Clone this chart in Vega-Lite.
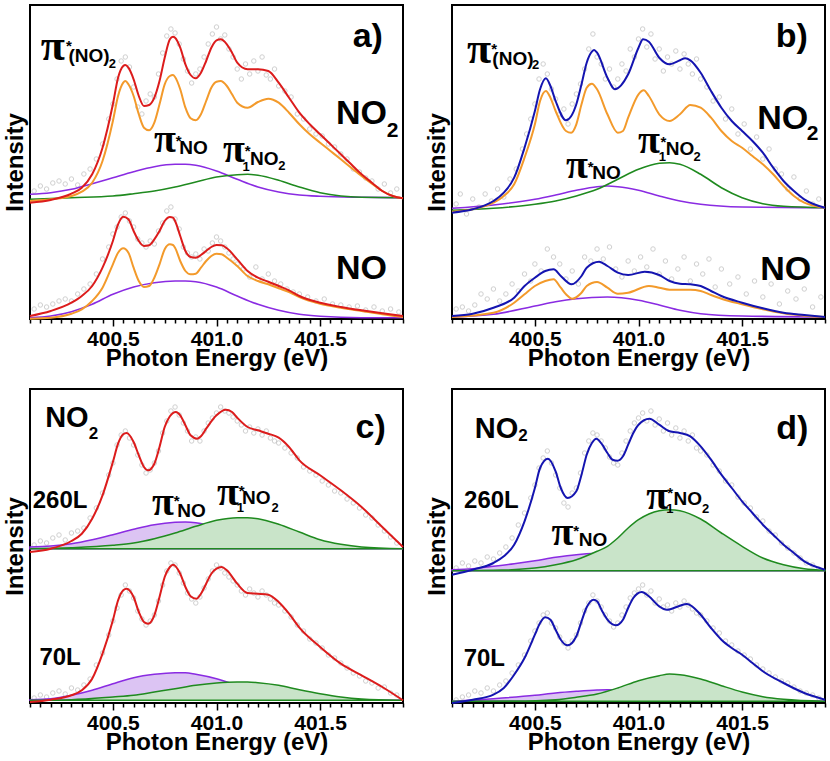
{
"$schema":"https://vega.github.io/schema/vega-lite/v6.json",
"padding":{"left":2,"top":3,"right":3,"bottom":3},
"data":{"values":[
{"p":"a","g":1,"c":"pt","x":400.12,"y":128},{"p":"a","g":1,"c":"pt","x":400.15,"y":133},{"p":"a","g":1,"c":"pt","x":400.18,"y":130},{"p":"a","g":1,"c":"pt","x":400.21,"y":136},{"p":"a","g":1,"c":"pt","x":400.24,"y":138},{"p":"a","g":1,"c":"pt","x":400.27,"y":135},{"p":"a","g":1,"c":"pt","x":400.30,"y":140},{"p":"a","g":1,"c":"pt","x":400.33,"y":134},{"p":"a","g":1,"c":"pt","x":400.36,"y":145},{"p":"a","g":1,"c":"pt","x":400.39,"y":150},{"p":"a","g":1,"c":"pt","x":400.42,"y":160},{"p":"a","g":1,"c":"pt","x":400.45,"y":175},{"p":"a","g":1,"c":"pt","x":400.48,"y":200},{"p":"a","g":1,"c":"pt","x":400.50,"y":215},{"p":"a","g":1,"c":"pt","x":400.52,"y":240},{"p":"a","g":1,"c":"pt","x":400.54,"y":258},{"p":"a","g":1,"c":"pt","x":400.56,"y":262},{"p":"a","g":1,"c":"pt","x":400.58,"y":252},{"p":"a","g":1,"c":"pt","x":400.60,"y":232},{"p":"a","g":1,"c":"pt","x":400.62,"y":212},{"p":"a","g":1,"c":"pt","x":400.64,"y":205},{"p":"a","g":1,"c":"pt","x":400.66,"y":218},{"p":"a","g":1,"c":"pt","x":400.68,"y":225},{"p":"a","g":1,"c":"pt","x":400.70,"y":222},{"p":"a","g":1,"c":"pt","x":400.72,"y":245},{"p":"a","g":1,"c":"pt","x":400.74,"y":266},{"p":"a","g":1,"c":"pt","x":400.76,"y":283},{"p":"a","g":1,"c":"pt","x":400.78,"y":290},{"p":"a","g":1,"c":"pt","x":400.80,"y":286},{"p":"a","g":1,"c":"pt","x":400.82,"y":275},{"p":"a","g":1,"c":"pt","x":400.84,"y":260},{"p":"a","g":1,"c":"pt","x":400.86,"y":248},{"p":"a","g":1,"c":"pt","x":400.88,"y":236},{"p":"a","g":1,"c":"pt","x":400.90,"y":245},{"p":"a","g":1,"c":"pt","x":400.92,"y":250},{"p":"a","g":1,"c":"pt","x":400.94,"y":262},{"p":"a","g":1,"c":"pt","x":400.96,"y":275},{"p":"a","g":1,"c":"pt","x":400.98,"y":285},{"p":"a","g":1,"c":"pt","x":401.00,"y":292},{"p":"a","g":1,"c":"pt","x":401.02,"y":280},{"p":"a","g":1,"c":"pt","x":401.04,"y":284},{"p":"a","g":1,"c":"pt","x":401.06,"y":270},{"p":"a","g":1,"c":"pt","x":401.08,"y":262},{"p":"a","g":1,"c":"pt","x":401.10,"y":250},{"p":"a","g":1,"c":"pt","x":401.12,"y":240},{"p":"a","g":1,"c":"pt","x":401.14,"y":255},{"p":"a","g":1,"c":"pt","x":401.16,"y":245},{"p":"a","g":1,"c":"pt","x":401.18,"y":258},{"p":"a","g":1,"c":"pt","x":401.20,"y":248},{"p":"a","g":1,"c":"pt","x":401.22,"y":262},{"p":"a","g":1,"c":"pt","x":401.24,"y":244},{"p":"a","g":1,"c":"pt","x":401.26,"y":240},{"p":"a","g":1,"c":"pt","x":401.28,"y":250},{"p":"a","g":1,"c":"pt","x":401.30,"y":233},{"p":"a","g":1,"c":"pt","x":401.33,"y":228},{"p":"a","g":1,"c":"pt","x":401.36,"y":222},{"p":"a","g":1,"c":"pt","x":401.39,"y":205},{"p":"a","g":1,"c":"pt","x":401.42,"y":200},{"p":"a","g":1,"c":"pt","x":401.45,"y":190},{"p":"a","g":1,"c":"pt","x":401.48,"y":185},{"p":"a","g":1,"c":"pt","x":401.51,"y":183},{"p":"a","g":1,"c":"pt","x":401.54,"y":175},{"p":"a","g":1,"c":"pt","x":401.57,"y":172},{"p":"a","g":1,"c":"pt","x":401.60,"y":165},{"p":"a","g":1,"c":"pt","x":401.63,"y":160},{"p":"a","g":1,"c":"pt","x":401.66,"y":150},{"p":"a","g":1,"c":"pt","x":401.69,"y":147},{"p":"a","g":1,"c":"pt","x":401.72,"y":141},{"p":"a","g":1,"c":"pt","x":401.75,"y":138},{"p":"a","g":1,"c":"pt","x":401.78,"y":130},{"p":"a","g":1,"c":"pt","x":401.81,"y":135},{"p":"a","g":1,"c":"pt","x":401.84,"y":126},{"p":"a","g":1,"c":"pt","x":401.87,"y":130},
{"p":"a","g":2,"c":"pt","x":400.12,"y":10},{"p":"a","g":2,"c":"pt","x":400.15,"y":14},{"p":"a","g":2,"c":"pt","x":400.18,"y":12},{"p":"a","g":2,"c":"pt","x":400.21,"y":15},{"p":"a","g":2,"c":"pt","x":400.24,"y":18},{"p":"a","g":2,"c":"pt","x":400.27,"y":20},{"p":"a","g":2,"c":"pt","x":400.30,"y":18},{"p":"a","g":2,"c":"pt","x":400.33,"y":25},{"p":"a","g":2,"c":"pt","x":400.36,"y":30},{"p":"a","g":2,"c":"pt","x":400.39,"y":35},{"p":"a","g":2,"c":"pt","x":400.42,"y":45},{"p":"a","g":2,"c":"pt","x":400.45,"y":60},{"p":"a","g":2,"c":"pt","x":400.48,"y":72},{"p":"a","g":2,"c":"pt","x":400.50,"y":85},{"p":"a","g":2,"c":"pt","x":400.52,"y":92},{"p":"a","g":2,"c":"pt","x":400.54,"y":102},{"p":"a","g":2,"c":"pt","x":400.56,"y":106},{"p":"a","g":2,"c":"pt","x":400.58,"y":98},{"p":"a","g":2,"c":"pt","x":400.60,"y":92},{"p":"a","g":2,"c":"pt","x":400.62,"y":80},{"p":"a","g":2,"c":"pt","x":400.64,"y":76},{"p":"a","g":2,"c":"pt","x":400.66,"y":72},{"p":"a","g":2,"c":"pt","x":400.68,"y":78},{"p":"a","g":2,"c":"pt","x":400.70,"y":75},{"p":"a","g":2,"c":"pt","x":400.72,"y":88},{"p":"a","g":2,"c":"pt","x":400.74,"y":96},{"p":"a","g":2,"c":"pt","x":400.76,"y":108},{"p":"a","g":2,"c":"pt","x":400.78,"y":112},{"p":"a","g":2,"c":"pt","x":400.80,"y":100},{"p":"a","g":2,"c":"pt","x":400.82,"y":90},{"p":"a","g":2,"c":"pt","x":400.84,"y":72},{"p":"a","g":2,"c":"pt","x":400.86,"y":66},{"p":"a","g":2,"c":"pt","x":400.88,"y":62},{"p":"a","g":2,"c":"pt","x":400.90,"y":65},{"p":"a","g":2,"c":"pt","x":400.92,"y":60},{"p":"a","g":2,"c":"pt","x":400.94,"y":70},{"p":"a","g":2,"c":"pt","x":400.96,"y":68},{"p":"a","g":2,"c":"pt","x":400.98,"y":76},{"p":"a","g":2,"c":"pt","x":401.00,"y":82},{"p":"a","g":2,"c":"pt","x":401.02,"y":78},{"p":"a","g":2,"c":"pt","x":401.04,"y":72},{"p":"a","g":2,"c":"pt","x":401.06,"y":66},{"p":"a","g":2,"c":"pt","x":401.08,"y":60},{"p":"a","g":2,"c":"pt","x":401.10,"y":55},{"p":"a","g":2,"c":"pt","x":401.13,"y":50},{"p":"a","g":2,"c":"pt","x":401.16,"y":42},{"p":"a","g":2,"c":"pt","x":401.19,"y":52},{"p":"a","g":2,"c":"pt","x":401.22,"y":40},{"p":"a","g":2,"c":"pt","x":401.25,"y":45},{"p":"a","g":2,"c":"pt","x":401.28,"y":38},{"p":"a","g":2,"c":"pt","x":401.31,"y":35},{"p":"a","g":2,"c":"pt","x":401.34,"y":30},{"p":"a","g":2,"c":"pt","x":401.37,"y":27},{"p":"a","g":2,"c":"pt","x":401.40,"y":25},{"p":"a","g":2,"c":"pt","x":401.44,"y":22},{"p":"a","g":2,"c":"pt","x":401.48,"y":18},{"p":"a","g":2,"c":"pt","x":401.52,"y":20},{"p":"a","g":2,"c":"pt","x":401.56,"y":15},{"p":"a","g":2,"c":"pt","x":401.60,"y":14},{"p":"a","g":2,"c":"pt","x":401.64,"y":12},{"p":"a","g":2,"c":"pt","x":401.68,"y":13},{"p":"a","g":2,"c":"pt","x":401.72,"y":9},{"p":"a","g":2,"c":"pt","x":401.76,"y":12},{"p":"a","g":2,"c":"pt","x":401.80,"y":8},{"p":"a","g":2,"c":"pt","x":401.84,"y":10},{"p":"a","g":2,"c":"pt","x":401.88,"y":7},
{"p":"b","g":1,"c":"pt","x":400.12,"y":115},{"p":"b","g":1,"c":"pt","x":400.14,"y":125},{"p":"b","g":1,"c":"pt","x":400.17,"y":105},{"p":"b","g":1,"c":"pt","x":400.20,"y":120},{"p":"b","g":1,"c":"pt","x":400.23,"y":112},{"p":"b","g":1,"c":"pt","x":400.26,"y":125},{"p":"b","g":1,"c":"pt","x":400.29,"y":118},{"p":"b","g":1,"c":"pt","x":400.32,"y":130},{"p":"b","g":1,"c":"pt","x":400.35,"y":122},{"p":"b","g":1,"c":"pt","x":400.38,"y":140},{"p":"b","g":1,"c":"pt","x":400.41,"y":150},{"p":"b","g":1,"c":"pt","x":400.44,"y":170},{"p":"b","g":1,"c":"pt","x":400.46,"y":185},{"p":"b","g":1,"c":"pt","x":400.48,"y":200},{"p":"b","g":1,"c":"pt","x":400.50,"y":215},{"p":"b","g":1,"c":"pt","x":400.52,"y":240},{"p":"b","g":1,"c":"pt","x":400.54,"y":255},{"p":"b","g":1,"c":"pt","x":400.56,"y":245},{"p":"b","g":1,"c":"pt","x":400.58,"y":230},{"p":"b","g":1,"c":"pt","x":400.60,"y":220},{"p":"b","g":1,"c":"pt","x":400.62,"y":205},{"p":"b","g":1,"c":"pt","x":400.64,"y":210},{"p":"b","g":1,"c":"pt","x":400.66,"y":195},{"p":"b","g":1,"c":"pt","x":400.68,"y":215},{"p":"b","g":1,"c":"pt","x":400.70,"y":225},{"p":"b","g":1,"c":"pt","x":400.72,"y":235},{"p":"b","g":1,"c":"pt","x":400.74,"y":250},{"p":"b","g":1,"c":"pt","x":400.76,"y":270},{"p":"b","g":1,"c":"pt","x":400.78,"y":285},{"p":"b","g":1,"c":"pt","x":400.80,"y":262},{"p":"b","g":1,"c":"pt","x":400.82,"y":255},{"p":"b","g":1,"c":"pt","x":400.84,"y":240},{"p":"b","g":1,"c":"pt","x":400.86,"y":250},{"p":"b","g":1,"c":"pt","x":400.88,"y":232},{"p":"b","g":1,"c":"pt","x":400.90,"y":240},{"p":"b","g":1,"c":"pt","x":400.92,"y":255},{"p":"b","g":1,"c":"pt","x":400.94,"y":248},{"p":"b","g":1,"c":"pt","x":400.96,"y":270},{"p":"b","g":1,"c":"pt","x":400.98,"y":262},{"p":"b","g":1,"c":"pt","x":401.00,"y":280},{"p":"b","g":1,"c":"pt","x":401.02,"y":290},{"p":"b","g":1,"c":"pt","x":401.04,"y":272},{"p":"b","g":1,"c":"pt","x":401.06,"y":285},{"p":"b","g":1,"c":"pt","x":401.08,"y":260},{"p":"b","g":1,"c":"pt","x":401.10,"y":270},{"p":"b","g":1,"c":"pt","x":401.12,"y":248},{"p":"b","g":1,"c":"pt","x":401.14,"y":262},{"p":"b","g":1,"c":"pt","x":401.16,"y":255},{"p":"b","g":1,"c":"pt","x":401.18,"y":268},{"p":"b","g":1,"c":"pt","x":401.20,"y":250},{"p":"b","g":1,"c":"pt","x":401.22,"y":265},{"p":"b","g":1,"c":"pt","x":401.24,"y":255},{"p":"b","g":1,"c":"pt","x":401.26,"y":245},{"p":"b","g":1,"c":"pt","x":401.28,"y":260},{"p":"b","g":1,"c":"pt","x":401.30,"y":240},{"p":"b","g":1,"c":"pt","x":401.33,"y":232},{"p":"b","g":1,"c":"pt","x":401.36,"y":218},{"p":"b","g":1,"c":"pt","x":401.39,"y":222},{"p":"b","g":1,"c":"pt","x":401.42,"y":200},{"p":"b","g":1,"c":"pt","x":401.45,"y":210},{"p":"b","g":1,"c":"pt","x":401.48,"y":185},{"p":"b","g":1,"c":"pt","x":401.51,"y":195},{"p":"b","g":1,"c":"pt","x":401.54,"y":170},{"p":"b","g":1,"c":"pt","x":401.57,"y":182},{"p":"b","g":1,"c":"pt","x":401.60,"y":160},{"p":"b","g":1,"c":"pt","x":401.63,"y":170},{"p":"b","g":1,"c":"pt","x":401.66,"y":150},{"p":"b","g":1,"c":"pt","x":401.69,"y":145},{"p":"b","g":1,"c":"pt","x":401.72,"y":130},{"p":"b","g":1,"c":"pt","x":401.75,"y":142},{"p":"b","g":1,"c":"pt","x":401.78,"y":120},{"p":"b","g":1,"c":"pt","x":401.81,"y":128},{"p":"b","g":1,"c":"pt","x":401.84,"y":115},{"p":"b","g":1,"c":"pt","x":401.87,"y":120},
{"p":"b","g":2,"c":"pt","x":400.12,"y":10},{"p":"b","g":2,"c":"pt","x":400.15,"y":12},{"p":"b","g":2,"c":"pt","x":400.18,"y":8},{"p":"b","g":2,"c":"pt","x":400.21,"y":14},{"p":"b","g":2,"c":"pt","x":400.24,"y":25},{"p":"b","g":2,"c":"pt","x":400.27,"y":20},{"p":"b","g":2,"c":"pt","x":400.30,"y":30},{"p":"b","g":2,"c":"pt","x":400.33,"y":18},{"p":"b","g":2,"c":"pt","x":400.36,"y":25},{"p":"b","g":2,"c":"pt","x":400.39,"y":35},{"p":"b","g":2,"c":"pt","x":400.42,"y":28},{"p":"b","g":2,"c":"pt","x":400.45,"y":45},{"p":"b","g":2,"c":"pt","x":400.48,"y":38},{"p":"b","g":2,"c":"pt","x":400.50,"y":55},{"p":"b","g":2,"c":"pt","x":400.53,"y":48},{"p":"b","g":2,"c":"pt","x":400.56,"y":70},{"p":"b","g":2,"c":"pt","x":400.59,"y":62},{"p":"b","g":2,"c":"pt","x":400.62,"y":55},{"p":"b","g":2,"c":"pt","x":400.65,"y":40},{"p":"b","g":2,"c":"pt","x":400.68,"y":48},{"p":"b","g":2,"c":"pt","x":400.71,"y":35},{"p":"b","g":2,"c":"pt","x":400.74,"y":62},{"p":"b","g":2,"c":"pt","x":400.77,"y":58},{"p":"b","g":2,"c":"pt","x":400.80,"y":70},{"p":"b","g":2,"c":"pt","x":400.83,"y":60},{"p":"b","g":2,"c":"pt","x":400.86,"y":72},{"p":"b","g":2,"c":"pt","x":400.89,"y":50},{"p":"b","g":2,"c":"pt","x":400.92,"y":42},{"p":"b","g":2,"c":"pt","x":400.95,"y":58},{"p":"b","g":2,"c":"pt","x":400.98,"y":48},{"p":"b","g":2,"c":"pt","x":401.01,"y":62},{"p":"b","g":2,"c":"pt","x":401.04,"y":52},{"p":"b","g":2,"c":"pt","x":401.07,"y":70},{"p":"b","g":2,"c":"pt","x":401.10,"y":45},{"p":"b","g":2,"c":"pt","x":401.13,"y":58},{"p":"b","g":2,"c":"pt","x":401.16,"y":40},{"p":"b","g":2,"c":"pt","x":401.19,"y":50},{"p":"b","g":2,"c":"pt","x":401.22,"y":62},{"p":"b","g":2,"c":"pt","x":401.25,"y":38},{"p":"b","g":2,"c":"pt","x":401.28,"y":55},{"p":"b","g":2,"c":"pt","x":401.31,"y":45},{"p":"b","g":2,"c":"pt","x":401.34,"y":60},{"p":"b","g":2,"c":"pt","x":401.37,"y":32},{"p":"b","g":2,"c":"pt","x":401.40,"y":50},{"p":"b","g":2,"c":"pt","x":401.44,"y":35},{"p":"b","g":2,"c":"pt","x":401.48,"y":42},{"p":"b","g":2,"c":"pt","x":401.52,"y":25},{"p":"b","g":2,"c":"pt","x":401.56,"y":38},{"p":"b","g":2,"c":"pt","x":401.60,"y":22},{"p":"b","g":2,"c":"pt","x":401.64,"y":35},{"p":"b","g":2,"c":"pt","x":401.68,"y":15},{"p":"b","g":2,"c":"pt","x":401.72,"y":28},{"p":"b","g":2,"c":"pt","x":401.76,"y":20},{"p":"b","g":2,"c":"pt","x":401.80,"y":30},{"p":"b","g":2,"c":"pt","x":401.84,"y":12},{"p":"b","g":2,"c":"pt","x":401.88,"y":22},
{"p":"c","g":1,"c":"pt","x":400.12,"y":158},{"p":"c","g":1,"c":"pt","x":400.15,"y":162},{"p":"c","g":1,"c":"pt","x":400.18,"y":160},{"p":"c","g":1,"c":"pt","x":400.21,"y":165},{"p":"c","g":1,"c":"pt","x":400.24,"y":168},{"p":"c","g":1,"c":"pt","x":400.27,"y":163},{"p":"c","g":1,"c":"pt","x":400.30,"y":170},{"p":"c","g":1,"c":"pt","x":400.33,"y":172},{"p":"c","g":1,"c":"pt","x":400.36,"y":175},{"p":"c","g":1,"c":"pt","x":400.39,"y":185},{"p":"c","g":1,"c":"pt","x":400.42,"y":195},{"p":"c","g":1,"c":"pt","x":400.45,"y":210},{"p":"c","g":1,"c":"pt","x":400.48,"y":228},{"p":"c","g":1,"c":"pt","x":400.50,"y":240},{"p":"c","g":1,"c":"pt","x":400.52,"y":258},{"p":"c","g":1,"c":"pt","x":400.54,"y":268},{"p":"c","g":1,"c":"pt","x":400.56,"y":272},{"p":"c","g":1,"c":"pt","x":400.58,"y":265},{"p":"c","g":1,"c":"pt","x":400.60,"y":258},{"p":"c","g":1,"c":"pt","x":400.62,"y":248},{"p":"c","g":1,"c":"pt","x":400.64,"y":238},{"p":"c","g":1,"c":"pt","x":400.66,"y":230},{"p":"c","g":1,"c":"pt","x":400.68,"y":233},{"p":"c","g":1,"c":"pt","x":400.70,"y":240},{"p":"c","g":1,"c":"pt","x":400.72,"y":252},{"p":"c","g":1,"c":"pt","x":400.74,"y":270},{"p":"c","g":1,"c":"pt","x":400.76,"y":282},{"p":"c","g":1,"c":"pt","x":400.78,"y":292},{"p":"c","g":1,"c":"pt","x":400.80,"y":296},{"p":"c","g":1,"c":"pt","x":400.82,"y":288},{"p":"c","g":1,"c":"pt","x":400.84,"y":280},{"p":"c","g":1,"c":"pt","x":400.86,"y":272},{"p":"c","g":1,"c":"pt","x":400.88,"y":262},{"p":"c","g":1,"c":"pt","x":400.90,"y":266},{"p":"c","g":1,"c":"pt","x":400.92,"y":262},{"p":"c","g":1,"c":"pt","x":400.94,"y":272},{"p":"c","g":1,"c":"pt","x":400.96,"y":280},{"p":"c","g":1,"c":"pt","x":400.98,"y":285},{"p":"c","g":1,"c":"pt","x":401.00,"y":290},{"p":"c","g":1,"c":"pt","x":401.02,"y":296},{"p":"c","g":1,"c":"pt","x":401.04,"y":292},{"p":"c","g":1,"c":"pt","x":401.06,"y":290},{"p":"c","g":1,"c":"pt","x":401.08,"y":286},{"p":"c","g":1,"c":"pt","x":401.10,"y":282},{"p":"c","g":1,"c":"pt","x":401.12,"y":278},{"p":"c","g":1,"c":"pt","x":401.14,"y":272},{"p":"c","g":1,"c":"pt","x":401.16,"y":276},{"p":"c","g":1,"c":"pt","x":401.18,"y":270},{"p":"c","g":1,"c":"pt","x":401.20,"y":274},{"p":"c","g":1,"c":"pt","x":401.22,"y":268},{"p":"c","g":1,"c":"pt","x":401.24,"y":272},{"p":"c","g":1,"c":"pt","x":401.26,"y":265},{"p":"c","g":1,"c":"pt","x":401.28,"y":262},{"p":"c","g":1,"c":"pt","x":401.30,"y":260},{"p":"c","g":1,"c":"pt","x":401.33,"y":255},{"p":"c","g":1,"c":"pt","x":401.36,"y":250},{"p":"c","g":1,"c":"pt","x":401.39,"y":245},{"p":"c","g":1,"c":"pt","x":401.42,"y":236},{"p":"c","g":1,"c":"pt","x":401.45,"y":232},{"p":"c","g":1,"c":"pt","x":401.48,"y":228},{"p":"c","g":1,"c":"pt","x":401.51,"y":222},{"p":"c","g":1,"c":"pt","x":401.54,"y":218},{"p":"c","g":1,"c":"pt","x":401.57,"y":212},{"p":"c","g":1,"c":"pt","x":401.60,"y":210},{"p":"c","g":1,"c":"pt","x":401.63,"y":204},{"p":"c","g":1,"c":"pt","x":401.66,"y":200},{"p":"c","g":1,"c":"pt","x":401.69,"y":195},{"p":"c","g":1,"c":"pt","x":401.72,"y":188},{"p":"c","g":1,"c":"pt","x":401.75,"y":185},{"p":"c","g":1,"c":"pt","x":401.78,"y":178},{"p":"c","g":1,"c":"pt","x":401.81,"y":172},{"p":"c","g":1,"c":"pt","x":401.84,"y":166},{"p":"c","g":1,"c":"pt","x":401.87,"y":160},
{"p":"c","g":2,"c":"pt","x":400.12,"y":5},{"p":"c","g":2,"c":"pt","x":400.15,"y":8},{"p":"c","g":2,"c":"pt","x":400.18,"y":6},{"p":"c","g":2,"c":"pt","x":400.21,"y":10},{"p":"c","g":2,"c":"pt","x":400.24,"y":12},{"p":"c","g":2,"c":"pt","x":400.27,"y":9},{"p":"c","g":2,"c":"pt","x":400.30,"y":15},{"p":"c","g":2,"c":"pt","x":400.33,"y":13},{"p":"c","g":2,"c":"pt","x":400.36,"y":18},{"p":"c","g":2,"c":"pt","x":400.39,"y":24},{"p":"c","g":2,"c":"pt","x":400.42,"y":38},{"p":"c","g":2,"c":"pt","x":400.45,"y":50},{"p":"c","g":2,"c":"pt","x":400.48,"y":68},{"p":"c","g":2,"c":"pt","x":400.50,"y":82},{"p":"c","g":2,"c":"pt","x":400.52,"y":95},{"p":"c","g":2,"c":"pt","x":400.54,"y":108},{"p":"c","g":2,"c":"pt","x":400.56,"y":118},{"p":"c","g":2,"c":"pt","x":400.58,"y":112},{"p":"c","g":2,"c":"pt","x":400.60,"y":105},{"p":"c","g":2,"c":"pt","x":400.62,"y":92},{"p":"c","g":2,"c":"pt","x":400.64,"y":84},{"p":"c","g":2,"c":"pt","x":400.66,"y":78},{"p":"c","g":2,"c":"pt","x":400.68,"y":82},{"p":"c","g":2,"c":"pt","x":400.70,"y":88},{"p":"c","g":2,"c":"pt","x":400.72,"y":102},{"p":"c","g":2,"c":"pt","x":400.74,"y":118},{"p":"c","g":2,"c":"pt","x":400.76,"y":132},{"p":"c","g":2,"c":"pt","x":400.78,"y":140},{"p":"c","g":2,"c":"pt","x":400.80,"y":138},{"p":"c","g":2,"c":"pt","x":400.82,"y":130},{"p":"c","g":2,"c":"pt","x":400.84,"y":120},{"p":"c","g":2,"c":"pt","x":400.86,"y":110},{"p":"c","g":2,"c":"pt","x":400.88,"y":104},{"p":"c","g":2,"c":"pt","x":400.90,"y":100},{"p":"c","g":2,"c":"pt","x":400.92,"y":106},{"p":"c","g":2,"c":"pt","x":400.94,"y":115},{"p":"c","g":2,"c":"pt","x":400.96,"y":124},{"p":"c","g":2,"c":"pt","x":400.98,"y":132},{"p":"c","g":2,"c":"pt","x":401.00,"y":138},{"p":"c","g":2,"c":"pt","x":401.02,"y":135},{"p":"c","g":2,"c":"pt","x":401.04,"y":130},{"p":"c","g":2,"c":"pt","x":401.06,"y":126},{"p":"c","g":2,"c":"pt","x":401.08,"y":122},{"p":"c","g":2,"c":"pt","x":401.10,"y":118},{"p":"c","g":2,"c":"pt","x":401.12,"y":112},{"p":"c","g":2,"c":"pt","x":401.14,"y":108},{"p":"c","g":2,"c":"pt","x":401.16,"y":114},{"p":"c","g":2,"c":"pt","x":401.18,"y":110},{"p":"c","g":2,"c":"pt","x":401.20,"y":106},{"p":"c","g":2,"c":"pt","x":401.22,"y":112},{"p":"c","g":2,"c":"pt","x":401.24,"y":108},{"p":"c","g":2,"c":"pt","x":401.26,"y":104},{"p":"c","g":2,"c":"pt","x":401.28,"y":100},{"p":"c","g":2,"c":"pt","x":401.30,"y":98},{"p":"c","g":2,"c":"pt","x":401.33,"y":92},{"p":"c","g":2,"c":"pt","x":401.36,"y":86},{"p":"c","g":2,"c":"pt","x":401.39,"y":78},{"p":"c","g":2,"c":"pt","x":401.42,"y":72},{"p":"c","g":2,"c":"pt","x":401.45,"y":64},{"p":"c","g":2,"c":"pt","x":401.48,"y":60},{"p":"c","g":2,"c":"pt","x":401.51,"y":55},{"p":"c","g":2,"c":"pt","x":401.54,"y":48},{"p":"c","g":2,"c":"pt","x":401.57,"y":45},{"p":"c","g":2,"c":"pt","x":401.60,"y":40},{"p":"c","g":2,"c":"pt","x":401.63,"y":35},{"p":"c","g":2,"c":"pt","x":401.66,"y":30},{"p":"c","g":2,"c":"pt","x":401.69,"y":27},{"p":"c","g":2,"c":"pt","x":401.72,"y":22},{"p":"c","g":2,"c":"pt","x":401.75,"y":20},{"p":"c","g":2,"c":"pt","x":401.78,"y":15},{"p":"c","g":2,"c":"pt","x":401.81,"y":16},{"p":"c","g":2,"c":"pt","x":401.84,"y":10},{"p":"c","g":2,"c":"pt","x":401.87,"y":8},
{"p":"d","g":1,"c":"pt","x":400.12,"y":135},{"p":"d","g":1,"c":"pt","x":400.15,"y":140},{"p":"d","g":1,"c":"pt","x":400.18,"y":137},{"p":"d","g":1,"c":"pt","x":400.21,"y":142},{"p":"d","g":1,"c":"pt","x":400.24,"y":140},{"p":"d","g":1,"c":"pt","x":400.27,"y":146},{"p":"d","g":1,"c":"pt","x":400.30,"y":144},{"p":"d","g":1,"c":"pt","x":400.33,"y":150},{"p":"d","g":1,"c":"pt","x":400.36,"y":156},{"p":"d","g":1,"c":"pt","x":400.39,"y":165},{"p":"d","g":1,"c":"pt","x":400.42,"y":178},{"p":"d","g":1,"c":"pt","x":400.45,"y":190},{"p":"d","g":1,"c":"pt","x":400.48,"y":205},{"p":"d","g":1,"c":"pt","x":400.50,"y":218},{"p":"d","g":1,"c":"pt","x":400.52,"y":235},{"p":"d","g":1,"c":"pt","x":400.54,"y":245},{"p":"d","g":1,"c":"pt","x":400.56,"y":252},{"p":"d","g":1,"c":"pt","x":400.58,"y":240},{"p":"d","g":1,"c":"pt","x":400.60,"y":228},{"p":"d","g":1,"c":"pt","x":400.62,"y":215},{"p":"d","g":1,"c":"pt","x":400.64,"y":200},{"p":"d","g":1,"c":"pt","x":400.66,"y":196},{"p":"d","g":1,"c":"pt","x":400.68,"y":210},{"p":"d","g":1,"c":"pt","x":400.70,"y":215},{"p":"d","g":1,"c":"pt","x":400.72,"y":230},{"p":"d","g":1,"c":"pt","x":400.74,"y":250},{"p":"d","g":1,"c":"pt","x":400.76,"y":262},{"p":"d","g":1,"c":"pt","x":400.78,"y":270},{"p":"d","g":1,"c":"pt","x":400.80,"y":268},{"p":"d","g":1,"c":"pt","x":400.82,"y":262},{"p":"d","g":1,"c":"pt","x":400.84,"y":255},{"p":"d","g":1,"c":"pt","x":400.86,"y":246},{"p":"d","g":1,"c":"pt","x":400.88,"y":240},{"p":"d","g":1,"c":"pt","x":400.90,"y":238},{"p":"d","g":1,"c":"pt","x":400.92,"y":250},{"p":"d","g":1,"c":"pt","x":400.94,"y":262},{"p":"d","g":1,"c":"pt","x":400.96,"y":272},{"p":"d","g":1,"c":"pt","x":400.98,"y":280},{"p":"d","g":1,"c":"pt","x":401.00,"y":285},{"p":"d","g":1,"c":"pt","x":401.02,"y":290},{"p":"d","g":1,"c":"pt","x":401.04,"y":282},{"p":"d","g":1,"c":"pt","x":401.06,"y":292},{"p":"d","g":1,"c":"pt","x":401.08,"y":278},{"p":"d","g":1,"c":"pt","x":401.10,"y":284},{"p":"d","g":1,"c":"pt","x":401.12,"y":272},{"p":"d","g":1,"c":"pt","x":401.14,"y":280},{"p":"d","g":1,"c":"pt","x":401.16,"y":268},{"p":"d","g":1,"c":"pt","x":401.18,"y":275},{"p":"d","g":1,"c":"pt","x":401.20,"y":265},{"p":"d","g":1,"c":"pt","x":401.22,"y":272},{"p":"d","g":1,"c":"pt","x":401.24,"y":262},{"p":"d","g":1,"c":"pt","x":401.26,"y":268},{"p":"d","g":1,"c":"pt","x":401.28,"y":255},{"p":"d","g":1,"c":"pt","x":401.30,"y":252},{"p":"d","g":1,"c":"pt","x":401.33,"y":248},{"p":"d","g":1,"c":"pt","x":401.36,"y":238},{"p":"d","g":1,"c":"pt","x":401.39,"y":232},{"p":"d","g":1,"c":"pt","x":401.42,"y":222},{"p":"d","g":1,"c":"pt","x":401.45,"y":218},{"p":"d","g":1,"c":"pt","x":401.48,"y":206},{"p":"d","g":1,"c":"pt","x":401.51,"y":200},{"p":"d","g":1,"c":"pt","x":401.54,"y":195},{"p":"d","g":1,"c":"pt","x":401.57,"y":186},{"p":"d","g":1,"c":"pt","x":401.60,"y":182},{"p":"d","g":1,"c":"pt","x":401.63,"y":172},{"p":"d","g":1,"c":"pt","x":401.66,"y":168},{"p":"d","g":1,"c":"pt","x":401.69,"y":160},{"p":"d","g":1,"c":"pt","x":401.72,"y":155},{"p":"d","g":1,"c":"pt","x":401.75,"y":150},{"p":"d","g":1,"c":"pt","x":401.78,"y":145},{"p":"d","g":1,"c":"pt","x":401.81,"y":140},{"p":"d","g":1,"c":"pt","x":401.84,"y":138},{"p":"d","g":1,"c":"pt","x":401.87,"y":134},
{"p":"d","g":2,"c":"pt","x":400.12,"y":3},{"p":"d","g":2,"c":"pt","x":400.15,"y":6},{"p":"d","g":2,"c":"pt","x":400.18,"y":8},{"p":"d","g":2,"c":"pt","x":400.21,"y":12},{"p":"d","g":2,"c":"pt","x":400.24,"y":10},{"p":"d","g":2,"c":"pt","x":400.27,"y":15},{"p":"d","g":2,"c":"pt","x":400.30,"y":12},{"p":"d","g":2,"c":"pt","x":400.33,"y":18},{"p":"d","g":2,"c":"pt","x":400.36,"y":22},{"p":"d","g":2,"c":"pt","x":400.39,"y":30},{"p":"d","g":2,"c":"pt","x":400.42,"y":38},{"p":"d","g":2,"c":"pt","x":400.45,"y":48},{"p":"d","g":2,"c":"pt","x":400.48,"y":62},{"p":"d","g":2,"c":"pt","x":400.50,"y":72},{"p":"d","g":2,"c":"pt","x":400.52,"y":80},{"p":"d","g":2,"c":"pt","x":400.54,"y":88},{"p":"d","g":2,"c":"pt","x":400.56,"y":90},{"p":"d","g":2,"c":"pt","x":400.58,"y":80},{"p":"d","g":2,"c":"pt","x":400.60,"y":75},{"p":"d","g":2,"c":"pt","x":400.62,"y":66},{"p":"d","g":2,"c":"pt","x":400.64,"y":60},{"p":"d","g":2,"c":"pt","x":400.66,"y":55},{"p":"d","g":2,"c":"pt","x":400.68,"y":62},{"p":"d","g":2,"c":"pt","x":400.70,"y":68},{"p":"d","g":2,"c":"pt","x":400.72,"y":80},{"p":"d","g":2,"c":"pt","x":400.74,"y":92},{"p":"d","g":2,"c":"pt","x":400.76,"y":100},{"p":"d","g":2,"c":"pt","x":400.78,"y":108},{"p":"d","g":2,"c":"pt","x":400.80,"y":102},{"p":"d","g":2,"c":"pt","x":400.82,"y":96},{"p":"d","g":2,"c":"pt","x":400.84,"y":88},{"p":"d","g":2,"c":"pt","x":400.86,"y":82},{"p":"d","g":2,"c":"pt","x":400.88,"y":76},{"p":"d","g":2,"c":"pt","x":400.90,"y":80},{"p":"d","g":2,"c":"pt","x":400.92,"y":88},{"p":"d","g":2,"c":"pt","x":400.94,"y":96},{"p":"d","g":2,"c":"pt","x":400.96,"y":105},{"p":"d","g":2,"c":"pt","x":400.98,"y":110},{"p":"d","g":2,"c":"pt","x":401.00,"y":114},{"p":"d","g":2,"c":"pt","x":401.02,"y":118},{"p":"d","g":2,"c":"pt","x":401.04,"y":108},{"p":"d","g":2,"c":"pt","x":401.06,"y":112},{"p":"d","g":2,"c":"pt","x":401.08,"y":100},{"p":"d","g":2,"c":"pt","x":401.10,"y":104},{"p":"d","g":2,"c":"pt","x":401.12,"y":96},{"p":"d","g":2,"c":"pt","x":401.14,"y":98},{"p":"d","g":2,"c":"pt","x":401.16,"y":92},{"p":"d","g":2,"c":"pt","x":401.18,"y":100},{"p":"d","g":2,"c":"pt","x":401.20,"y":96},{"p":"d","g":2,"c":"pt","x":401.22,"y":102},{"p":"d","g":2,"c":"pt","x":401.24,"y":98},{"p":"d","g":2,"c":"pt","x":401.26,"y":94},{"p":"d","g":2,"c":"pt","x":401.28,"y":90},{"p":"d","g":2,"c":"pt","x":401.30,"y":88},{"p":"d","g":2,"c":"pt","x":401.33,"y":82},{"p":"d","g":2,"c":"pt","x":401.36,"y":75},{"p":"d","g":2,"c":"pt","x":401.39,"y":70},{"p":"d","g":2,"c":"pt","x":401.42,"y":62},{"p":"d","g":2,"c":"pt","x":401.45,"y":58},{"p":"d","g":2,"c":"pt","x":401.48,"y":52},{"p":"d","g":2,"c":"pt","x":401.51,"y":48},{"p":"d","g":2,"c":"pt","x":401.54,"y":44},{"p":"d","g":2,"c":"pt","x":401.57,"y":38},{"p":"d","g":2,"c":"pt","x":401.60,"y":34},{"p":"d","g":2,"c":"pt","x":401.63,"y":30},{"p":"d","g":2,"c":"pt","x":401.66,"y":26},{"p":"d","g":2,"c":"pt","x":401.69,"y":22},{"p":"d","g":2,"c":"pt","x":401.72,"y":20},{"p":"d","g":2,"c":"pt","x":401.75,"y":16},{"p":"d","g":2,"c":"pt","x":401.78,"y":12},{"p":"d","g":2,"c":"pt","x":401.81,"y":10},{"p":"d","g":2,"c":"pt","x":401.84,"y":8},{"p":"d","g":2,"c":"pt","x":401.87,"y":5},

{"p":"a","g":1,"c":"sum","x":400.1,"y":116.3},{"p":"a","g":1,"c":"sum","x":400.2,"y":119},{"p":"a","g":1,"c":"sum","x":400.3,"y":125.3},{"p":"a","g":1,"c":"sum","x":400.35,"y":131.3},{"p":"a","g":1,"c":"sum","x":400.4,"y":144.7},{"p":"a","g":1,"c":"sum","x":400.45,"y":171.3},{"p":"a","g":1,"c":"sum","x":400.5,"y":214.7},{"p":"a","g":1,"c":"sum","x":400.525,"y":241.3},{"p":"a","g":1,"c":"sum","x":400.55,"y":253},{"p":"a","g":1,"c":"sum","x":400.56,"y":254},{"p":"a","g":1,"c":"sum","x":400.575,"y":251.3},{"p":"a","g":1,"c":"sum","x":400.6,"y":239.7},{"p":"a","g":1,"c":"sum","x":400.625,"y":223},{"p":"a","g":1,"c":"sum","x":400.65,"y":213},{"p":"a","g":1,"c":"sum","x":400.675,"y":214},{"p":"a","g":1,"c":"sum","x":400.7,"y":221.3},{"p":"a","g":1,"c":"sum","x":400.725,"y":238},{"p":"a","g":1,"c":"sum","x":400.75,"y":261.3},{"p":"a","g":1,"c":"sum","x":400.775,"y":279.7},{"p":"a","g":1,"c":"sum","x":400.79,"y":282.3},{"p":"a","g":1,"c":"sum","x":400.8,"y":281.3},{"p":"a","g":1,"c":"sum","x":400.825,"y":271.3},{"p":"a","g":1,"c":"sum","x":400.85,"y":254.7},{"p":"a","g":1,"c":"sum","x":400.875,"y":244},{"p":"a","g":1,"c":"sum","x":400.9,"y":240.7},{"p":"a","g":1,"c":"sum","x":400.925,"y":246.3},{"p":"a","g":1,"c":"sum","x":400.95,"y":258},{"p":"a","g":1,"c":"sum","x":400.975,"y":271.3},{"p":"a","g":1,"c":"sum","x":401,"y":278.7},{"p":"a","g":1,"c":"sum","x":401.02,"y":279.7},{"p":"a","g":1,"c":"sum","x":401.05,"y":274.7},{"p":"a","g":1,"c":"sum","x":401.075,"y":266.3},{"p":"a","g":1,"c":"sum","x":401.1,"y":256.3},{"p":"a","g":1,"c":"sum","x":401.15,"y":249.7},{"p":"a","g":1,"c":"sum","x":401.2,"y":249.7},{"p":"a","g":1,"c":"sum","x":401.25,"y":248},{"p":"a","g":1,"c":"sum","x":401.3,"y":236.3},{"p":"a","g":1,"c":"sum","x":401.35,"y":221.3},{"p":"a","g":1,"c":"sum","x":401.4,"y":206.3},{"p":"a","g":1,"c":"sum","x":401.45,"y":194.7},{"p":"a","g":1,"c":"sum","x":401.5,"y":184.7},{"p":"a","g":1,"c":"sum","x":401.55,"y":174.7},{"p":"a","g":1,"c":"sum","x":401.6,"y":164.7},{"p":"a","g":1,"c":"sum","x":401.65,"y":154.7},{"p":"a","g":1,"c":"sum","x":401.7,"y":144.7},{"p":"a","g":1,"c":"sum","x":401.75,"y":136.3},{"p":"a","g":1,"c":"sum","x":401.8,"y":128},{"p":"a","g":1,"c":"sum","x":401.85,"y":123},{"p":"a","g":1,"c":"sum","x":401.9,"y":120.7},
{"p":"a","g":1,"c":"vib","x":400.1,"y":118},{"p":"a","g":1,"c":"vib","x":400.2,"y":119.7},{"p":"a","g":1,"c":"vib","x":400.3,"y":123},{"p":"a","g":1,"c":"vib","x":400.35,"y":127.3},{"p":"a","g":1,"c":"vib","x":400.4,"y":136.3},{"p":"a","g":1,"c":"vib","x":400.45,"y":158},{"p":"a","g":1,"c":"vib","x":400.5,"y":198},{"p":"a","g":1,"c":"vib","x":400.525,"y":223},{"p":"a","g":1,"c":"vib","x":400.55,"y":236.3},{"p":"a","g":1,"c":"vib","x":400.56,"y":238},{"p":"a","g":1,"c":"vib","x":400.575,"y":234.7},{"p":"a","g":1,"c":"vib","x":400.6,"y":223},{"p":"a","g":1,"c":"vib","x":400.625,"y":204.7},{"p":"a","g":1,"c":"vib","x":400.65,"y":191.3},{"p":"a","g":1,"c":"vib","x":400.675,"y":188.7},{"p":"a","g":1,"c":"vib","x":400.7,"y":196.3},{"p":"a","g":1,"c":"vib","x":400.725,"y":214.7},{"p":"a","g":1,"c":"vib","x":400.75,"y":234.7},{"p":"a","g":1,"c":"vib","x":400.775,"y":243},{"p":"a","g":1,"c":"vib","x":400.79,"y":244},{"p":"a","g":1,"c":"vib","x":400.8,"y":242},{"p":"a","g":1,"c":"vib","x":400.825,"y":229.7},{"p":"a","g":1,"c":"vib","x":400.85,"y":211.3},{"p":"a","g":1,"c":"vib","x":400.875,"y":200.7},{"p":"a","g":1,"c":"vib","x":400.9,"y":198.7},{"p":"a","g":1,"c":"vib","x":400.925,"y":204.7},{"p":"a","g":1,"c":"vib","x":400.95,"y":218},{"p":"a","g":1,"c":"vib","x":400.975,"y":231.3},{"p":"a","g":1,"c":"vib","x":401,"y":237.3},{"p":"a","g":1,"c":"vib","x":401.02,"y":238},{"p":"a","g":1,"c":"vib","x":401.05,"y":233},{"p":"a","g":1,"c":"vib","x":401.075,"y":224.7},{"p":"a","g":1,"c":"vib","x":401.1,"y":216.3},{"p":"a","g":1,"c":"vib","x":401.15,"y":211.3},{"p":"a","g":1,"c":"vib","x":401.2,"y":217},{"p":"a","g":1,"c":"vib","x":401.25,"y":220.3},{"p":"a","g":1,"c":"vib","x":401.3,"y":216.3},{"p":"a","g":1,"c":"vib","x":401.35,"y":206.3},{"p":"a","g":1,"c":"vib","x":401.4,"y":194.7},{"p":"a","g":1,"c":"vib","x":401.45,"y":184.7},{"p":"a","g":1,"c":"vib","x":401.5,"y":176.3},{"p":"a","g":1,"c":"vib","x":401.55,"y":168},{"p":"a","g":1,"c":"vib","x":401.6,"y":159.7},{"p":"a","g":1,"c":"vib","x":401.65,"y":151.3},{"p":"a","g":1,"c":"vib","x":401.7,"y":143},{"p":"a","g":1,"c":"vib","x":401.75,"y":135.3},{"p":"a","g":1,"c":"vib","x":401.8,"y":128},{"p":"a","g":1,"c":"vib","x":401.85,"y":123},{"p":"a","g":1,"c":"vib","x":401.9,"y":120.7},
{"p":"a","g":1,"c":"piNO","x":400.1,"y":124.7},{"p":"a","g":1,"c":"piNO","x":400.2,"y":126.3},{"p":"a","g":1,"c":"piNO","x":400.3,"y":129.7},{"p":"a","g":1,"c":"piNO","x":400.4,"y":135.3},{"p":"a","g":1,"c":"piNO","x":400.5,"y":141.3},{"p":"a","g":1,"c":"piNO","x":400.6,"y":147.3},{"p":"a","g":1,"c":"piNO","x":400.7,"y":152.3},{"p":"a","g":1,"c":"piNO","x":400.8,"y":154.7},{"p":"a","g":1,"c":"piNO","x":400.85,"y":154.7},{"p":"a","g":1,"c":"piNO","x":400.9,"y":153.7},{"p":"a","g":1,"c":"piNO","x":401,"y":148},{"p":"a","g":1,"c":"piNO","x":401.1,"y":139.7},{"p":"a","g":1,"c":"piNO","x":401.2,"y":132},{"p":"a","g":1,"c":"piNO","x":401.3,"y":127},{"p":"a","g":1,"c":"piNO","x":401.4,"y":124},{"p":"a","g":1,"c":"piNO","x":401.5,"y":122.7},{"p":"a","g":1,"c":"piNO","x":401.7,"y":121.7},{"p":"a","g":1,"c":"piNO","x":401.9,"y":121.3},
{"p":"a","g":1,"c":"piNO2","x":400.1,"y":119.7},{"p":"a","g":1,"c":"piNO2","x":400.3,"y":121.3},{"p":"a","g":1,"c":"piNO2","x":400.5,"y":123},{"p":"a","g":1,"c":"piNO2","x":400.6,"y":125.3},{"p":"a","g":1,"c":"piNO2","x":400.7,"y":128},{"p":"a","g":1,"c":"piNO2","x":400.8,"y":132},{"p":"a","g":1,"c":"piNO2","x":400.9,"y":137},{"p":"a","g":1,"c":"piNO2","x":401,"y":142},{"p":"a","g":1,"c":"piNO2","x":401.1,"y":144.3},{"p":"a","g":1,"c":"piNO2","x":401.15,"y":144.7},{"p":"a","g":1,"c":"piNO2","x":401.2,"y":143.7},{"p":"a","g":1,"c":"piNO2","x":401.3,"y":138.7},{"p":"a","g":1,"c":"piNO2","x":401.4,"y":132},{"p":"a","g":1,"c":"piNO2","x":401.5,"y":126.3},{"p":"a","g":1,"c":"piNO2","x":401.6,"y":123},{"p":"a","g":1,"c":"piNO2","x":401.7,"y":121.7},{"p":"a","g":1,"c":"piNO2","x":401.9,"y":121.3},
{"p":"a","g":2,"c":"sum","x":400.1,"y":3},{"p":"a","g":2,"c":"sum","x":400.2,"y":8},{"p":"a","g":2,"c":"sum","x":400.3,"y":16.3},{"p":"a","g":2,"c":"sum","x":400.35,"y":23},{"p":"a","g":2,"c":"sum","x":400.4,"y":33},{"p":"a","g":2,"c":"sum","x":400.45,"y":51.3},{"p":"a","g":2,"c":"sum","x":400.5,"y":78},{"p":"a","g":2,"c":"sum","x":400.525,"y":94.7},{"p":"a","g":2,"c":"sum","x":400.55,"y":102.3},{"p":"a","g":2,"c":"sum","x":400.575,"y":99.7},{"p":"a","g":2,"c":"sum","x":400.6,"y":88},{"p":"a","g":2,"c":"sum","x":400.625,"y":78},{"p":"a","g":2,"c":"sum","x":400.65,"y":73},{"p":"a","g":2,"c":"sum","x":400.675,"y":73.7},{"p":"a","g":2,"c":"sum","x":400.7,"y":79.7},{"p":"a","g":2,"c":"sum","x":400.725,"y":88},{"p":"a","g":2,"c":"sum","x":400.75,"y":98},{"p":"a","g":2,"c":"sum","x":400.775,"y":102},{"p":"a","g":2,"c":"sum","x":400.79,"y":101.3},{"p":"a","g":2,"c":"sum","x":400.8,"y":98},{"p":"a","g":2,"c":"sum","x":400.825,"y":83},{"p":"a","g":2,"c":"sum","x":400.85,"y":68},{"p":"a","g":2,"c":"sum","x":400.875,"y":62},{"p":"a","g":2,"c":"sum","x":400.9,"y":61.3},{"p":"a","g":2,"c":"sum","x":400.925,"y":64},{"p":"a","g":2,"c":"sum","x":400.95,"y":68},{"p":"a","g":2,"c":"sum","x":400.975,"y":72},{"p":"a","g":2,"c":"sum","x":401,"y":74},{"p":"a","g":2,"c":"sum","x":401.025,"y":73.7},{"p":"a","g":2,"c":"sum","x":401.05,"y":70.7},{"p":"a","g":2,"c":"sum","x":401.1,"y":59.7},{"p":"a","g":2,"c":"sum","x":401.15,"y":48},{"p":"a","g":2,"c":"sum","x":401.2,"y":41.3},{"p":"a","g":2,"c":"sum","x":401.25,"y":37.3},{"p":"a","g":2,"c":"sum","x":401.3,"y":33},{"p":"a","g":2,"c":"sum","x":401.35,"y":28.7},{"p":"a","g":2,"c":"sum","x":401.4,"y":23},{"p":"a","g":2,"c":"sum","x":401.5,"y":16.3},{"p":"a","g":2,"c":"sum","x":401.6,"y":12},{"p":"a","g":2,"c":"sum","x":401.7,"y":8.7},{"p":"a","g":2,"c":"sum","x":401.8,"y":5.7},{"p":"a","g":2,"c":"sum","x":401.9,"y":3},
{"p":"a","g":2,"c":"vib","x":400.1,"y":0.3},{"p":"a","g":2,"c":"vib","x":400.2,"y":1.3},{"p":"a","g":2,"c":"vib","x":400.3,"y":5.3},{"p":"a","g":2,"c":"vib","x":400.35,"y":9.7},{"p":"a","g":2,"c":"vib","x":400.4,"y":18},{"p":"a","g":2,"c":"vib","x":400.45,"y":31.3},{"p":"a","g":2,"c":"vib","x":400.5,"y":54.7},{"p":"a","g":2,"c":"vib","x":400.525,"y":66.3},{"p":"a","g":2,"c":"vib","x":400.55,"y":70.7},{"p":"a","g":2,"c":"vib","x":400.575,"y":66.3},{"p":"a","g":2,"c":"vib","x":400.6,"y":51.3},{"p":"a","g":2,"c":"vib","x":400.625,"y":38},{"p":"a","g":2,"c":"vib","x":400.65,"y":32},{"p":"a","g":2,"c":"vib","x":400.675,"y":33},{"p":"a","g":2,"c":"vib","x":400.7,"y":41.3},{"p":"a","g":2,"c":"vib","x":400.725,"y":54.7},{"p":"a","g":2,"c":"vib","x":400.75,"y":69.7},{"p":"a","g":2,"c":"vib","x":400.775,"y":74.7},{"p":"a","g":2,"c":"vib","x":400.79,"y":74},{"p":"a","g":2,"c":"vib","x":400.8,"y":71.3},{"p":"a","g":2,"c":"vib","x":400.825,"y":58},{"p":"a","g":2,"c":"vib","x":400.85,"y":48},{"p":"a","g":2,"c":"vib","x":400.875,"y":44.7},{"p":"a","g":2,"c":"vib","x":400.9,"y":45.3},{"p":"a","g":2,"c":"vib","x":400.925,"y":51.3},{"p":"a","g":2,"c":"vib","x":400.95,"y":58},{"p":"a","g":2,"c":"vib","x":400.975,"y":63},{"p":"a","g":2,"c":"vib","x":401,"y":65.3},{"p":"a","g":2,"c":"vib","x":401.025,"y":64.7},{"p":"a","g":2,"c":"vib","x":401.05,"y":61.3},{"p":"a","g":2,"c":"vib","x":401.1,"y":53},{"p":"a","g":2,"c":"vib","x":401.15,"y":43},{"p":"a","g":2,"c":"vib","x":401.2,"y":38},{"p":"a","g":2,"c":"vib","x":401.25,"y":34.7},{"p":"a","g":2,"c":"vib","x":401.3,"y":30.7},{"p":"a","g":2,"c":"vib","x":401.35,"y":27},{"p":"a","g":2,"c":"vib","x":401.4,"y":22},{"p":"a","g":2,"c":"vib","x":401.5,"y":15.3},{"p":"a","g":2,"c":"vib","x":401.6,"y":11.3},{"p":"a","g":2,"c":"vib","x":401.7,"y":8},{"p":"a","g":2,"c":"vib","x":401.8,"y":4.7},{"p":"a","g":2,"c":"vib","x":401.9,"y":2},
{"p":"a","g":2,"c":"piNO","x":400.1,"y":1.3},{"p":"a","g":2,"c":"piNO","x":400.2,"y":3},{"p":"a","g":2,"c":"piNO","x":400.3,"y":7.3},{"p":"a","g":2,"c":"piNO","x":400.4,"y":14.7},{"p":"a","g":2,"c":"piNO","x":400.5,"y":24.7},{"p":"a","g":2,"c":"piNO","x":400.6,"y":32},{"p":"a","g":2,"c":"piNO","x":400.7,"y":36.3},{"p":"a","g":2,"c":"piNO","x":400.8,"y":38},{"p":"a","g":2,"c":"piNO","x":400.85,"y":38},{"p":"a","g":2,"c":"piNO","x":400.9,"y":37.3},{"p":"a","g":2,"c":"piNO","x":401,"y":32},{"p":"a","g":2,"c":"piNO","x":401.1,"y":23},{"p":"a","g":2,"c":"piNO","x":401.2,"y":14.7},{"p":"a","g":2,"c":"piNO","x":401.3,"y":8.7},{"p":"a","g":2,"c":"piNO","x":401.4,"y":4.7},{"p":"a","g":2,"c":"piNO","x":401.5,"y":2.7},{"p":"a","g":2,"c":"piNO","x":401.7,"y":1.3},{"p":"a","g":2,"c":"piNO","x":401.9,"y":1.3},

{"p":"b","g":1,"c":"sum","x":400.1,"y":106.3},{"p":"b","g":1,"c":"sum","x":400.2,"y":109.7},{"p":"b","g":1,"c":"sum","x":400.3,"y":118},{"p":"b","g":1,"c":"sum","x":400.35,"y":126.3},{"p":"b","g":1,"c":"sum","x":400.4,"y":141.3},{"p":"b","g":1,"c":"sum","x":400.45,"y":171.3},{"p":"b","g":1,"c":"sum","x":400.5,"y":208},{"p":"b","g":1,"c":"sum","x":400.525,"y":229.7},{"p":"b","g":1,"c":"sum","x":400.553,"y":240.7},{"p":"b","g":1,"c":"sum","x":400.575,"y":233},{"p":"b","g":1,"c":"sum","x":400.6,"y":218},{"p":"b","g":1,"c":"sum","x":400.65,"y":198.7},{"p":"b","g":1,"c":"sum","x":400.7,"y":214.7},{"p":"b","g":1,"c":"sum","x":400.725,"y":234.7},{"p":"b","g":1,"c":"sum","x":400.75,"y":256.3},{"p":"b","g":1,"c":"sum","x":400.775,"y":267.3},{"p":"b","g":1,"c":"sum","x":400.786,"y":269},{"p":"b","g":1,"c":"sum","x":400.8,"y":266.3},{"p":"b","g":1,"c":"sum","x":400.85,"y":241.3},{"p":"b","g":1,"c":"sum","x":400.886,"y":229.7},{"p":"b","g":1,"c":"sum","x":400.95,"y":244.7},{"p":"b","g":1,"c":"sum","x":401,"y":271.3},{"p":"b","g":1,"c":"sum","x":401.022,"y":279.7},{"p":"b","g":1,"c":"sum","x":401.05,"y":277.3},{"p":"b","g":1,"c":"sum","x":401.1,"y":261.3},{"p":"b","g":1,"c":"sum","x":401.15,"y":254.7},{"p":"b","g":1,"c":"sum","x":401.2,"y":258.7},{"p":"b","g":1,"c":"sum","x":401.225,"y":260.7},{"p":"b","g":1,"c":"sum","x":401.25,"y":258.7},{"p":"b","g":1,"c":"sum","x":401.3,"y":246.3},{"p":"b","g":1,"c":"sum","x":401.35,"y":228},{"p":"b","g":1,"c":"sum","x":401.4,"y":211.3},{"p":"b","g":1,"c":"sum","x":401.45,"y":198},{"p":"b","g":1,"c":"sum","x":401.5,"y":188},{"p":"b","g":1,"c":"sum","x":401.55,"y":178},{"p":"b","g":1,"c":"sum","x":401.6,"y":166.3},{"p":"b","g":1,"c":"sum","x":401.65,"y":151.3},{"p":"b","g":1,"c":"sum","x":401.7,"y":138},{"p":"b","g":1,"c":"sum","x":401.75,"y":128},{"p":"b","g":1,"c":"sum","x":401.8,"y":119.7},{"p":"b","g":1,"c":"sum","x":401.9,"y":111.3},
{"p":"b","g":1,"c":"vib","x":400.1,"y":107.3},{"p":"b","g":1,"c":"vib","x":400.2,"y":109.7},{"p":"b","g":1,"c":"vib","x":400.3,"y":116.3},{"p":"b","g":1,"c":"vib","x":400.35,"y":123},{"p":"b","g":1,"c":"vib","x":400.4,"y":134.7},{"p":"b","g":1,"c":"vib","x":400.45,"y":161.3},{"p":"b","g":1,"c":"vib","x":400.5,"y":194.7},{"p":"b","g":1,"c":"vib","x":400.525,"y":218},{"p":"b","g":1,"c":"vib","x":400.553,"y":228},{"p":"b","g":1,"c":"vib","x":400.575,"y":221.3},{"p":"b","g":1,"c":"vib","x":400.6,"y":208},{"p":"b","g":1,"c":"vib","x":400.65,"y":188},{"p":"b","g":1,"c":"vib","x":400.675,"y":186.3},{"p":"b","g":1,"c":"vib","x":400.7,"y":194.7},{"p":"b","g":1,"c":"vib","x":400.725,"y":214.7},{"p":"b","g":1,"c":"vib","x":400.75,"y":231.3},{"p":"b","g":1,"c":"vib","x":400.775,"y":235.3},{"p":"b","g":1,"c":"vib","x":400.8,"y":229.7},{"p":"b","g":1,"c":"vib","x":400.85,"y":204.7},{"p":"b","g":1,"c":"vib","x":400.9,"y":186.3},{"p":"b","g":1,"c":"vib","x":400.925,"y":188},{"p":"b","g":1,"c":"vib","x":400.95,"y":201.3},{"p":"b","g":1,"c":"vib","x":401,"y":224.7},{"p":"b","g":1,"c":"vib","x":401.025,"y":228.7},{"p":"b","g":1,"c":"vib","x":401.05,"y":223},{"p":"b","g":1,"c":"vib","x":401.1,"y":204.7},{"p":"b","g":1,"c":"vib","x":401.15,"y":198},{"p":"b","g":1,"c":"vib","x":401.2,"y":204.7},{"p":"b","g":1,"c":"vib","x":401.25,"y":214},{"p":"b","g":1,"c":"vib","x":401.3,"y":211.3},{"p":"b","g":1,"c":"vib","x":401.35,"y":201.3},{"p":"b","g":1,"c":"vib","x":401.4,"y":188},{"p":"b","g":1,"c":"vib","x":401.45,"y":178},{"p":"b","g":1,"c":"vib","x":401.5,"y":171.3},{"p":"b","g":1,"c":"vib","x":401.55,"y":163},{"p":"b","g":1,"c":"vib","x":401.6,"y":154.7},{"p":"b","g":1,"c":"vib","x":401.65,"y":144.7},{"p":"b","g":1,"c":"vib","x":401.7,"y":133},{"p":"b","g":1,"c":"vib","x":401.75,"y":123},{"p":"b","g":1,"c":"vib","x":401.8,"y":116.3},{"p":"b","g":1,"c":"vib","x":401.9,"y":111.3},
{"p":"b","g":1,"c":"piNO","x":400.1,"y":110.7},{"p":"b","g":1,"c":"piNO","x":400.3,"y":114},{"p":"b","g":1,"c":"piNO","x":400.5,"y":119.7},{"p":"b","g":1,"c":"piNO","x":400.6,"y":124},{"p":"b","g":1,"c":"piNO","x":400.7,"y":128.7},{"p":"b","g":1,"c":"piNO","x":400.8,"y":132.3},{"p":"b","g":1,"c":"piNO","x":400.85,"y":133},{"p":"b","g":1,"c":"piNO","x":400.9,"y":132.3},{"p":"b","g":1,"c":"piNO","x":401,"y":128.7},{"p":"b","g":1,"c":"piNO","x":401.1,"y":123},{"p":"b","g":1,"c":"piNO","x":401.2,"y":118},{"p":"b","g":1,"c":"piNO","x":401.3,"y":114.7},{"p":"b","g":1,"c":"piNO","x":401.5,"y":112},{"p":"b","g":1,"c":"piNO","x":401.9,"y":111.3},
{"p":"b","g":1,"c":"piNO2","x":400.1,"y":108.7},{"p":"b","g":1,"c":"piNO2","x":400.3,"y":110.7},{"p":"b","g":1,"c":"piNO2","x":400.5,"y":114.7},{"p":"b","g":1,"c":"piNO2","x":400.6,"y":118},{"p":"b","g":1,"c":"piNO2","x":400.7,"y":123},{"p":"b","g":1,"c":"piNO2","x":400.8,"y":129.7},{"p":"b","g":1,"c":"piNO2","x":400.9,"y":139.7},{"p":"b","g":1,"c":"piNO2","x":401,"y":149.7},{"p":"b","g":1,"c":"piNO2","x":401.1,"y":155.7},{"p":"b","g":1,"c":"piNO2","x":401.15,"y":156.3},{"p":"b","g":1,"c":"piNO2","x":401.2,"y":154.7},{"p":"b","g":1,"c":"piNO2","x":401.3,"y":144.7},{"p":"b","g":1,"c":"piNO2","x":401.4,"y":131.3},{"p":"b","g":1,"c":"piNO2","x":401.5,"y":121.3},{"p":"b","g":1,"c":"piNO2","x":401.6,"y":115.3},{"p":"b","g":1,"c":"piNO2","x":401.7,"y":112.7},{"p":"b","g":1,"c":"piNO2","x":401.9,"y":111.3},
{"p":"b","g":2,"c":"sum","x":400.1,"y":3},{"p":"b","g":2,"c":"sum","x":400.2,"y":5.3},{"p":"b","g":2,"c":"sum","x":400.3,"y":11.3},{"p":"b","g":2,"c":"sum","x":400.4,"y":21.3},{"p":"b","g":2,"c":"sum","x":400.45,"y":33},{"p":"b","g":2,"c":"sum","x":400.5,"y":41.3},{"p":"b","g":2,"c":"sum","x":400.55,"y":48},{"p":"b","g":2,"c":"sum","x":400.59,"y":49.7},{"p":"b","g":2,"c":"sum","x":400.625,"y":43},{"p":"b","g":2,"c":"sum","x":400.677,"y":34.7},{"p":"b","g":2,"c":"sum","x":400.725,"y":43},{"p":"b","g":2,"c":"sum","x":400.75,"y":51.3},{"p":"b","g":2,"c":"sum","x":400.81,"y":57.3},{"p":"b","g":2,"c":"sum","x":400.85,"y":53},{"p":"b","g":2,"c":"sum","x":400.9,"y":46.3},{"p":"b","g":2,"c":"sum","x":400.95,"y":44},{"p":"b","g":2,"c":"sum","x":401.03,"y":47.3},{"p":"b","g":2,"c":"sum","x":401.1,"y":44},{"p":"b","g":2,"c":"sum","x":401.15,"y":38},{"p":"b","g":2,"c":"sum","x":401.2,"y":35.3},{"p":"b","g":2,"c":"sum","x":401.25,"y":34.7},{"p":"b","g":2,"c":"sum","x":401.3,"y":33},{"p":"b","g":2,"c":"sum","x":401.35,"y":28},{"p":"b","g":2,"c":"sum","x":401.4,"y":23},{"p":"b","g":2,"c":"sum","x":401.5,"y":16.3},{"p":"b","g":2,"c":"sum","x":401.6,"y":10.7},{"p":"b","g":2,"c":"sum","x":401.7,"y":6.3},{"p":"b","g":2,"c":"sum","x":401.8,"y":4},{"p":"b","g":2,"c":"sum","x":401.9,"y":2},
{"p":"b","g":2,"c":"vib","x":400.1,"y":2},{"p":"b","g":2,"c":"vib","x":400.3,"y":6.3},{"p":"b","g":2,"c":"vib","x":400.4,"y":16.3},{"p":"b","g":2,"c":"vib","x":400.45,"y":24.7},{"p":"b","g":2,"c":"vib","x":400.5,"y":33},{"p":"b","g":2,"c":"vib","x":400.55,"y":38},{"p":"b","g":2,"c":"vib","x":400.59,"y":39.7},{"p":"b","g":2,"c":"vib","x":400.625,"y":31.3},{"p":"b","g":2,"c":"vib","x":400.65,"y":24.7},{"p":"b","g":2,"c":"vib","x":400.68,"y":20.3},{"p":"b","g":2,"c":"vib","x":400.725,"y":26.3},{"p":"b","g":2,"c":"vib","x":400.75,"y":33},{"p":"b","g":2,"c":"vib","x":400.8,"y":37},{"p":"b","g":2,"c":"vib","x":400.85,"y":31.3},{"p":"b","g":2,"c":"vib","x":400.9,"y":25.3},{"p":"b","g":2,"c":"vib","x":400.95,"y":26.3},{"p":"b","g":2,"c":"vib","x":401.05,"y":33},{"p":"b","g":2,"c":"vib","x":401.1,"y":31.3},{"p":"b","g":2,"c":"vib","x":401.15,"y":29.3},{"p":"b","g":2,"c":"vib","x":401.25,"y":29.3},{"p":"b","g":2,"c":"vib","x":401.3,"y":28},{"p":"b","g":2,"c":"vib","x":401.35,"y":24},{"p":"b","g":2,"c":"vib","x":401.4,"y":20.3},{"p":"b","g":2,"c":"vib","x":401.5,"y":14.7},{"p":"b","g":2,"c":"vib","x":401.6,"y":9.7},{"p":"b","g":2,"c":"vib","x":401.7,"y":5.7},{"p":"b","g":2,"c":"vib","x":401.8,"y":3.3},{"p":"b","g":2,"c":"vib","x":401.9,"y":2},
{"p":"b","g":2,"c":"piNO","x":400.1,"y":2},{"p":"b","g":2,"c":"piNO","x":400.3,"y":4.7},{"p":"b","g":2,"c":"piNO","x":400.5,"y":13},{"p":"b","g":2,"c":"piNO","x":400.6,"y":17.3},{"p":"b","g":2,"c":"piNO","x":400.7,"y":20.3},{"p":"b","g":2,"c":"piNO","x":400.85,"y":22},{"p":"b","g":2,"c":"piNO","x":401,"y":18.7},{"p":"b","g":2,"c":"piNO","x":401.1,"y":14},{"p":"b","g":2,"c":"piNO","x":401.2,"y":8.7},{"p":"b","g":2,"c":"piNO","x":401.3,"y":5.3},{"p":"b","g":2,"c":"piNO","x":401.5,"y":3},{"p":"b","g":2,"c":"piNO","x":401.9,"y":2},

{"p":"c","g":1,"c":"sum","x":400.1,"y":151},{"p":"c","g":1,"c":"sum","x":400.2,"y":154.3},{"p":"c","g":1,"c":"sum","x":400.3,"y":162},{"p":"c","g":1,"c":"sum","x":400.35,"y":169.3},{"p":"c","g":1,"c":"sum","x":400.4,"y":184.3},{"p":"c","g":1,"c":"sum","x":400.45,"y":207.7},{"p":"c","g":1,"c":"sum","x":400.5,"y":241},{"p":"c","g":1,"c":"sum","x":400.525,"y":259.3},{"p":"c","g":1,"c":"sum","x":400.55,"y":268.7},{"p":"c","g":1,"c":"sum","x":400.566,"y":270},{"p":"c","g":1,"c":"sum","x":400.6,"y":261},{"p":"c","g":1,"c":"sum","x":400.625,"y":247.7},{"p":"c","g":1,"c":"sum","x":400.65,"y":236},{"p":"c","g":1,"c":"sum","x":400.67,"y":232.7},{"p":"c","g":1,"c":"sum","x":400.7,"y":239.3},{"p":"c","g":1,"c":"sum","x":400.725,"y":256},{"p":"c","g":1,"c":"sum","x":400.75,"y":276},{"p":"c","g":1,"c":"sum","x":400.775,"y":286.7},{"p":"c","g":1,"c":"sum","x":400.804,"y":291},{"p":"c","g":1,"c":"sum","x":400.825,"y":287.7},{"p":"c","g":1,"c":"sum","x":400.85,"y":277.7},{"p":"c","g":1,"c":"sum","x":400.875,"y":267.7},{"p":"c","g":1,"c":"sum","x":400.907,"y":264.3},{"p":"c","g":1,"c":"sum","x":400.925,"y":266.7},{"p":"c","g":1,"c":"sum","x":400.95,"y":274.3},{"p":"c","g":1,"c":"sum","x":401,"y":287.7},{"p":"c","g":1,"c":"sum","x":401.045,"y":293.3},{"p":"c","g":1,"c":"sum","x":401.075,"y":291},{"p":"c","g":1,"c":"sum","x":401.1,"y":285.3},{"p":"c","g":1,"c":"sum","x":401.15,"y":276},{"p":"c","g":1,"c":"sum","x":401.2,"y":272.7},{"p":"c","g":1,"c":"sum","x":401.25,"y":269.3},{"p":"c","g":1,"c":"sum","x":401.3,"y":265.3},{"p":"c","g":1,"c":"sum","x":401.35,"y":256},{"p":"c","g":1,"c":"sum","x":401.4,"y":242.7},{"p":"c","g":1,"c":"sum","x":401.5,"y":227.7},{"p":"c","g":1,"c":"sum","x":401.6,"y":212.7},{"p":"c","g":1,"c":"sum","x":401.7,"y":196},{"p":"c","g":1,"c":"sum","x":401.8,"y":176},{"p":"c","g":1,"c":"sum","x":401.85,"y":166},{"p":"c","g":1,"c":"sum","x":401.9,"y":156},
{"p":"c","g":1,"c":"piNO","b":154.3,"x":400.1,"y":156},{"p":"c","g":1,"c":"piNO","b":154.3,"x":400.2,"y":157},{"p":"c","g":1,"c":"piNO","b":154.3,"x":400.3,"y":159.3},{"p":"c","g":1,"c":"piNO","b":154.3,"x":400.4,"y":163.3},{"p":"c","g":1,"c":"piNO","b":154.3,"x":400.5,"y":168.3},{"p":"c","g":1,"c":"piNO","b":154.3,"x":400.6,"y":173.7},{"p":"c","g":1,"c":"piNO","b":154.3,"x":400.7,"y":178.3},{"p":"c","g":1,"c":"piNO","b":154.3,"x":400.8,"y":180.7},{"p":"c","g":1,"c":"piNO","b":154.3,"x":400.85,"y":181},{"p":"c","g":1,"c":"piNO","b":154.3,"x":400.9,"y":180.3},{"p":"c","g":1,"c":"piNO","b":154.3,"x":400.95,"y":178.3},{"p":"c","g":1,"c":"piNO","b":154.3,"x":401,"y":175.3},{"p":"c","g":1,"c":"piNO","b":154.3,"x":401.1,"y":167.7},{"p":"c","g":1,"c":"piNO","b":154.3,"x":401.2,"y":161},{"p":"c","g":1,"c":"piNO","b":154.3,"x":401.3,"y":157},{"p":"c","g":1,"c":"piNO","b":154.3,"x":401.4,"y":155},{"p":"c","g":1,"c":"piNO","b":154.3,"x":401.6,"y":154.3},{"p":"c","g":1,"c":"piNO","b":154.3,"x":401.9,"y":154.3},
{"p":"c","g":1,"c":"piNO2","b":154.3,"x":400.1,"y":154.3},{"p":"c","g":1,"c":"piNO2","b":154.3,"x":400.3,"y":155.3},{"p":"c","g":1,"c":"piNO2","b":154.3,"x":400.5,"y":157.7},{"p":"c","g":1,"c":"piNO2","b":154.3,"x":400.6,"y":160},{"p":"c","g":1,"c":"piNO2","b":154.3,"x":400.7,"y":164.3},{"p":"c","g":1,"c":"piNO2","b":154.3,"x":400.8,"y":170},{"p":"c","g":1,"c":"piNO2","b":154.3,"x":400.9,"y":176.7},{"p":"c","g":1,"c":"piNO2","b":154.3,"x":401,"y":182.7},{"p":"c","g":1,"c":"piNO2","b":154.3,"x":401.1,"y":185.3},{"p":"c","g":1,"c":"piNO2","b":154.3,"x":401.15,"y":185.3},{"p":"c","g":1,"c":"piNO2","b":154.3,"x":401.2,"y":184.3},{"p":"c","g":1,"c":"piNO2","b":154.3,"x":401.3,"y":178.7},{"p":"c","g":1,"c":"piNO2","b":154.3,"x":401.4,"y":171},{"p":"c","g":1,"c":"piNO2","b":154.3,"x":401.5,"y":163.3},{"p":"c","g":1,"c":"piNO2","b":154.3,"x":401.6,"y":158.7},{"p":"c","g":1,"c":"piNO2","b":154.3,"x":401.7,"y":156},{"p":"c","g":1,"c":"piNO2","b":154.3,"x":401.9,"y":154.3},
{"p":"c","g":2,"c":"sum","x":400.1,"y":1},{"p":"c","g":2,"c":"sum","x":400.2,"y":3.3},{"p":"c","g":2,"c":"sum","x":400.3,"y":7.7},{"p":"c","g":2,"c":"sum","x":400.35,"y":12.7},{"p":"c","g":2,"c":"sum","x":400.4,"y":24.3},{"p":"c","g":2,"c":"sum","x":400.45,"y":49.3},{"p":"c","g":2,"c":"sum","x":400.5,"y":82.7},{"p":"c","g":2,"c":"sum","x":400.525,"y":102.7},{"p":"c","g":2,"c":"sum","x":400.55,"y":112.7},{"p":"c","g":2,"c":"sum","x":400.566,"y":114.3},{"p":"c","g":2,"c":"sum","x":400.6,"y":106},{"p":"c","g":2,"c":"sum","x":400.625,"y":91},{"p":"c","g":2,"c":"sum","x":400.65,"y":81},{"p":"c","g":2,"c":"sum","x":400.67,"y":79.3},{"p":"c","g":2,"c":"sum","x":400.7,"y":87.7},{"p":"c","g":2,"c":"sum","x":400.725,"y":106},{"p":"c","g":2,"c":"sum","x":400.75,"y":126},{"p":"c","g":2,"c":"sum","x":400.775,"y":136},{"p":"c","g":2,"c":"sum","x":400.79,"y":138.3},{"p":"c","g":2,"c":"sum","x":400.825,"y":129.3},{"p":"c","g":2,"c":"sum","x":400.85,"y":116},{"p":"c","g":2,"c":"sum","x":400.875,"y":106.7},{"p":"c","g":2,"c":"sum","x":400.903,"y":104.3},{"p":"c","g":2,"c":"sum","x":400.925,"y":109.3},{"p":"c","g":2,"c":"sum","x":400.95,"y":119.3},{"p":"c","g":2,"c":"sum","x":400.975,"y":129.3},{"p":"c","g":2,"c":"sum","x":401,"y":134.3},{"p":"c","g":2,"c":"sum","x":401.024,"y":136},{"p":"c","g":2,"c":"sum","x":401.05,"y":132.7},{"p":"c","g":2,"c":"sum","x":401.1,"y":119.3},{"p":"c","g":2,"c":"sum","x":401.15,"y":110},{"p":"c","g":2,"c":"sum","x":401.2,"y":109.3},{"p":"c","g":2,"c":"sum","x":401.25,"y":108.3},{"p":"c","g":2,"c":"sum","x":401.3,"y":101},{"p":"c","g":2,"c":"sum","x":401.35,"y":89.3},{"p":"c","g":2,"c":"sum","x":401.4,"y":75.3},{"p":"c","g":2,"c":"sum","x":401.5,"y":56},{"p":"c","g":2,"c":"sum","x":401.6,"y":39.3},{"p":"c","g":2,"c":"sum","x":401.7,"y":27.7},{"p":"c","g":2,"c":"sum","x":401.8,"y":16},{"p":"c","g":2,"c":"sum","x":401.9,"y":2.7},
{"p":"c","g":2,"c":"piNO","b":2.7,"x":400.1,"y":3.3},{"p":"c","g":2,"c":"piNO","b":2.7,"x":400.2,"y":4.3},{"p":"c","g":2,"c":"piNO","b":2.7,"x":400.3,"y":7.7},{"p":"c","g":2,"c":"piNO","b":2.7,"x":400.4,"y":12.7},{"p":"c","g":2,"c":"piNO","b":2.7,"x":400.5,"y":19.3},{"p":"c","g":2,"c":"piNO","b":2.7,"x":400.6,"y":25.3},{"p":"c","g":2,"c":"piNO","b":2.7,"x":400.7,"y":28.7},{"p":"c","g":2,"c":"piNO","b":2.7,"x":400.8,"y":30.3},{"p":"c","g":2,"c":"piNO","b":2.7,"x":400.85,"y":30.3},{"p":"c","g":2,"c":"piNO","b":2.7,"x":400.9,"y":28.7},{"p":"c","g":2,"c":"piNO","b":2.7,"x":401,"y":24.3},{"p":"c","g":2,"c":"piNO","b":2.7,"x":401.1,"y":17.7},{"p":"c","g":2,"c":"piNO","b":2.7,"x":401.2,"y":11},{"p":"c","g":2,"c":"piNO","b":2.7,"x":401.3,"y":6.7},{"p":"c","g":2,"c":"piNO","b":2.7,"x":401.5,"y":3.7},{"p":"c","g":2,"c":"piNO","b":2.7,"x":401.9,"y":2.7},
{"p":"c","g":2,"c":"piNO2","b":2.7,"x":400.1,"y":2.7},{"p":"c","g":2,"c":"piNO2","b":2.7,"x":400.3,"y":3.3},{"p":"c","g":2,"c":"piNO2","b":2.7,"x":400.5,"y":6},{"p":"c","g":2,"c":"piNO2","b":2.7,"x":400.6,"y":7.7},{"p":"c","g":2,"c":"piNO2","b":2.7,"x":400.7,"y":11},{"p":"c","g":2,"c":"piNO2","b":2.7,"x":400.8,"y":14.3},{"p":"c","g":2,"c":"piNO2","b":2.7,"x":400.9,"y":17.7},{"p":"c","g":2,"c":"piNO2","b":2.7,"x":401,"y":20},{"p":"c","g":2,"c":"piNO2","b":2.7,"x":401.1,"y":21},{"p":"c","g":2,"c":"piNO2","b":2.7,"x":401.15,"y":21},{"p":"c","g":2,"c":"piNO2","b":2.7,"x":401.2,"y":20.3},{"p":"c","g":2,"c":"piNO2","b":2.7,"x":401.3,"y":17.7},{"p":"c","g":2,"c":"piNO2","b":2.7,"x":401.4,"y":13.3},{"p":"c","g":2,"c":"piNO2","b":2.7,"x":401.5,"y":9.3},{"p":"c","g":2,"c":"piNO2","b":2.7,"x":401.6,"y":6},{"p":"c","g":2,"c":"piNO2","b":2.7,"x":401.7,"y":4},{"p":"c","g":2,"c":"piNO2","b":2.7,"x":401.9,"y":2.7},

{"p":"d","g":1,"c":"sum","x":400.1,"y":128.3},{"p":"d","g":1,"c":"sum","x":400.2,"y":133.3},{"p":"d","g":1,"c":"sum","x":400.3,"y":140},{"p":"d","g":1,"c":"sum","x":400.35,"y":146.7},{"p":"d","g":1,"c":"sum","x":400.4,"y":158.3},{"p":"d","g":1,"c":"sum","x":400.45,"y":181.7},{"p":"d","g":1,"c":"sum","x":400.5,"y":215},{"p":"d","g":1,"c":"sum","x":400.525,"y":235},{"p":"d","g":1,"c":"sum","x":400.563,"y":244.3},{"p":"d","g":1,"c":"sum","x":400.6,"y":231.7},{"p":"d","g":1,"c":"sum","x":400.625,"y":215},{"p":"d","g":1,"c":"sum","x":400.658,"y":205},{"p":"d","g":1,"c":"sum","x":400.7,"y":211.7},{"p":"d","g":1,"c":"sum","x":400.725,"y":228.3},{"p":"d","g":1,"c":"sum","x":400.75,"y":248.3},{"p":"d","g":1,"c":"sum","x":400.775,"y":260},{"p":"d","g":1,"c":"sum","x":400.796,"y":264.3},{"p":"d","g":1,"c":"sum","x":400.825,"y":258.3},{"p":"d","g":1,"c":"sum","x":400.85,"y":250},{"p":"d","g":1,"c":"sum","x":400.875,"y":243.3},{"p":"d","g":1,"c":"sum","x":400.899,"y":242.3},{"p":"d","g":1,"c":"sum","x":400.925,"y":246.7},{"p":"d","g":1,"c":"sum","x":400.95,"y":258.3},{"p":"d","g":1,"c":"sum","x":400.975,"y":270},{"p":"d","g":1,"c":"sum","x":401,"y":278.3},{"p":"d","g":1,"c":"sum","x":401.053,"y":284.3},{"p":"d","g":1,"c":"sum","x":401.1,"y":278.3},{"p":"d","g":1,"c":"sum","x":401.15,"y":271.7},{"p":"d","g":1,"c":"sum","x":401.2,"y":270},{"p":"d","g":1,"c":"sum","x":401.25,"y":266.7},{"p":"d","g":1,"c":"sum","x":401.3,"y":256.7},{"p":"d","g":1,"c":"sum","x":401.35,"y":243.3},{"p":"d","g":1,"c":"sum","x":401.4,"y":228.3},{"p":"d","g":1,"c":"sum","x":401.45,"y":215},{"p":"d","g":1,"c":"sum","x":401.5,"y":201.7},{"p":"d","g":1,"c":"sum","x":401.55,"y":190},{"p":"d","g":1,"c":"sum","x":401.6,"y":178.3},{"p":"d","g":1,"c":"sum","x":401.65,"y":168.3},{"p":"d","g":1,"c":"sum","x":401.7,"y":158.3},{"p":"d","g":1,"c":"sum","x":401.75,"y":150},{"p":"d","g":1,"c":"sum","x":401.8,"y":141.7},{"p":"d","g":1,"c":"sum","x":401.85,"y":136.7},{"p":"d","g":1,"c":"sum","x":401.9,"y":133.3},
{"p":"d","g":1,"c":"piNO","b":132.3,"x":400.1,"y":133.3},{"p":"d","g":1,"c":"piNO","b":132.3,"x":400.2,"y":134.3},{"p":"d","g":1,"c":"piNO","b":132.3,"x":400.3,"y":136.7},{"p":"d","g":1,"c":"piNO","b":132.3,"x":400.4,"y":139.3},{"p":"d","g":1,"c":"piNO","b":132.3,"x":400.5,"y":142.3},{"p":"d","g":1,"c":"piNO","b":132.3,"x":400.6,"y":145.7},{"p":"d","g":1,"c":"piNO","b":132.3,"x":400.7,"y":148.3},{"p":"d","g":1,"c":"piNO","b":132.3,"x":400.8,"y":149.7},{"p":"d","g":1,"c":"piNO","b":132.3,"x":400.85,"y":150},{"p":"d","g":1,"c":"piNO","b":132.3,"x":400.9,"y":149.3},{"p":"d","g":1,"c":"piNO","b":132.3,"x":401,"y":146.7},{"p":"d","g":1,"c":"piNO","b":132.3,"x":401.1,"y":142.3},{"p":"d","g":1,"c":"piNO","b":132.3,"x":401.2,"y":138.3},{"p":"d","g":1,"c":"piNO","b":132.3,"x":401.3,"y":135},{"p":"d","g":1,"c":"piNO","b":132.3,"x":401.4,"y":133.3},{"p":"d","g":1,"c":"piNO","b":132.3,"x":401.6,"y":132.3},{"p":"d","g":1,"c":"piNO","b":132.3,"x":401.9,"y":132.3},
{"p":"d","g":1,"c":"piNO2","b":132.3,"x":400.1,"y":132.3},{"p":"d","g":1,"c":"piNO2","b":132.3,"x":400.3,"y":132.7},{"p":"d","g":1,"c":"piNO2","b":132.3,"x":400.5,"y":135},{"p":"d","g":1,"c":"piNO2","b":132.3,"x":400.6,"y":138.3},{"p":"d","g":1,"c":"piNO2","b":132.3,"x":400.7,"y":143.3},{"p":"d","g":1,"c":"piNO2","b":132.3,"x":400.8,"y":151.7},{"p":"d","g":1,"c":"piNO2","b":132.3,"x":400.85,"y":156.7},{"p":"d","g":1,"c":"piNO2","b":132.3,"x":400.9,"y":165},{"p":"d","g":1,"c":"piNO2","b":132.3,"x":400.95,"y":175},{"p":"d","g":1,"c":"piNO2","b":132.3,"x":401,"y":183.3},{"p":"d","g":1,"c":"piNO2","b":132.3,"x":401.05,"y":189},{"p":"d","g":1,"c":"piNO2","b":132.3,"x":401.1,"y":192.3},{"p":"d","g":1,"c":"piNO2","b":132.3,"x":401.15,"y":193.3},{"p":"d","g":1,"c":"piNO2","b":132.3,"x":401.2,"y":192.3},{"p":"d","g":1,"c":"piNO2","b":132.3,"x":401.3,"y":184},{"p":"d","g":1,"c":"piNO2","b":132.3,"x":401.4,"y":170},{"p":"d","g":1,"c":"piNO2","b":132.3,"x":401.5,"y":156.7},{"p":"d","g":1,"c":"piNO2","b":132.3,"x":401.6,"y":145},{"p":"d","g":1,"c":"piNO2","b":132.3,"x":401.7,"y":138.3},{"p":"d","g":1,"c":"piNO2","b":132.3,"x":401.8,"y":134.3},{"p":"d","g":1,"c":"piNO2","b":132.3,"x":401.9,"y":132.7},
{"p":"d","g":2,"c":"sum","x":400.1,"y":0},{"p":"d","g":2,"c":"sum","x":400.2,"y":3.3},{"p":"d","g":2,"c":"sum","x":400.3,"y":8.3},{"p":"d","g":2,"c":"sum","x":400.35,"y":15},{"p":"d","g":2,"c":"sum","x":400.4,"y":28.3},{"p":"d","g":2,"c":"sum","x":400.45,"y":45},{"p":"d","g":2,"c":"sum","x":400.5,"y":68.3},{"p":"d","g":2,"c":"sum","x":400.525,"y":80},{"p":"d","g":2,"c":"sum","x":400.55,"y":85.7},{"p":"d","g":2,"c":"sum","x":400.575,"y":83.3},{"p":"d","g":2,"c":"sum","x":400.6,"y":73.3},{"p":"d","g":2,"c":"sum","x":400.625,"y":63.3},{"p":"d","g":2,"c":"sum","x":400.658,"y":57.7},{"p":"d","g":2,"c":"sum","x":400.7,"y":66.7},{"p":"d","g":2,"c":"sum","x":400.725,"y":81.7},{"p":"d","g":2,"c":"sum","x":400.75,"y":95.7},{"p":"d","g":2,"c":"sum","x":400.783,"y":103.3},{"p":"d","g":2,"c":"sum","x":400.8,"y":101.7},{"p":"d","g":2,"c":"sum","x":400.825,"y":91.7},{"p":"d","g":2,"c":"sum","x":400.85,"y":83.3},{"p":"d","g":2,"c":"sum","x":400.891,"y":77.7},{"p":"d","g":2,"c":"sum","x":400.925,"y":83.3},{"p":"d","g":2,"c":"sum","x":400.95,"y":95},{"p":"d","g":2,"c":"sum","x":400.975,"y":105},{"p":"d","g":2,"c":"sum","x":401.016,"y":111},{"p":"d","g":2,"c":"sum","x":401.05,"y":106.7},{"p":"d","g":2,"c":"sum","x":401.1,"y":96.7},{"p":"d","g":2,"c":"sum","x":401.137,"y":93.3},{"p":"d","g":2,"c":"sum","x":401.2,"y":97.3},{"p":"d","g":2,"c":"sum","x":401.233,"y":99},{"p":"d","g":2,"c":"sum","x":401.3,"y":88.3},{"p":"d","g":2,"c":"sum","x":401.35,"y":75},{"p":"d","g":2,"c":"sum","x":401.4,"y":63.3},{"p":"d","g":2,"c":"sum","x":401.45,"y":55},{"p":"d","g":2,"c":"sum","x":401.5,"y":48.3},{"p":"d","g":2,"c":"sum","x":401.55,"y":40},{"p":"d","g":2,"c":"sum","x":401.6,"y":31.7},{"p":"d","g":2,"c":"sum","x":401.7,"y":20},{"p":"d","g":2,"c":"sum","x":401.8,"y":10},{"p":"d","g":2,"c":"sum","x":401.9,"y":3.3},
{"p":"d","g":2,"c":"piNO","b":1.7,"x":400.1,"y":1.7},{"p":"d","g":2,"c":"piNO","b":1.7,"x":400.3,"y":4.3},{"p":"d","g":2,"c":"piNO","b":1.7,"x":400.5,"y":7.7},{"p":"d","g":2,"c":"piNO","b":1.7,"x":400.6,"y":10},{"p":"d","g":2,"c":"piNO","b":1.7,"x":400.7,"y":11.7},{"p":"d","g":2,"c":"piNO","b":1.7,"x":400.8,"y":13},{"p":"d","g":2,"c":"piNO","b":1.7,"x":400.85,"y":13.3},{"p":"d","g":2,"c":"piNO","b":1.7,"x":400.9,"y":12.7},{"p":"d","g":2,"c":"piNO","b":1.7,"x":401,"y":10.7},{"p":"d","g":2,"c":"piNO","b":1.7,"x":401.1,"y":7.7},{"p":"d","g":2,"c":"piNO","b":1.7,"x":401.2,"y":5},{"p":"d","g":2,"c":"piNO","b":1.7,"x":401.4,"y":2.7},{"p":"d","g":2,"c":"piNO","b":1.7,"x":401.9,"y":1.7},
{"p":"d","g":2,"c":"piNO2","b":1.7,"x":400.1,"y":1.7},{"p":"d","g":2,"c":"piNO2","b":1.7,"x":400.4,"y":1.9},{"p":"d","g":2,"c":"piNO2","b":1.7,"x":400.6,"y":3.3},{"p":"d","g":2,"c":"piNO2","b":1.7,"x":400.7,"y":5.7},{"p":"d","g":2,"c":"piNO2","b":1.7,"x":400.8,"y":9},{"p":"d","g":2,"c":"piNO2","b":1.7,"x":400.9,"y":15},{"p":"d","g":2,"c":"piNO2","b":1.7,"x":401,"y":22.3},{"p":"d","g":2,"c":"piNO2","b":1.7,"x":401.1,"y":27.3},{"p":"d","g":2,"c":"piNO2","b":1.7,"x":401.15,"y":29},{"p":"d","g":2,"c":"piNO2","b":1.7,"x":401.2,"y":28.3},{"p":"d","g":2,"c":"piNO2","b":1.7,"x":401.3,"y":24},{"p":"d","g":2,"c":"piNO2","b":1.7,"x":401.4,"y":17.3},{"p":"d","g":2,"c":"piNO2","b":1.7,"x":401.5,"y":11},{"p":"d","g":2,"c":"piNO2","b":1.7,"x":401.6,"y":6.3},{"p":"d","g":2,"c":"piNO2","b":1.7,"x":401.7,"y":3.7},{"p":"d","g":2,"c":"piNO2","b":1.7,"x":401.9,"y":1.7},

{"p":"a","c":"txt","t":"panel","x":401.73,"y":282,"s":"a)"},
{"p":"a","c":"pi","t":"piBig","x":400.21,"y":272,"s":"π"},
{"p":"a","c":"txt","t":"sup","x":400.288,"y":273,"s":"*"},
{"p":"a","c":"txt","t":"lbl","x":400.385,"y":263,"s":"(NO)"},
{"p":"a","c":"txt","t":"sub","x":400.498,"y":255,"s":"2"},
{"p":"a","c":"txt","t":"sp","x":401.70,"y":205,"s":"NO"},
{"p":"a","c":"txt","t":"subBig","x":401.85,"y":188,"s":"2"},
{"p":"a","c":"pi","t":"pi","x":400.751,"y":179,"s":"π"},
{"p":"a","c":"txt","t":"sup","x":400.818,"y":178,"s":"*"},
{"p":"a","c":"txt","t":"lbl","x":400.889,"y":171,"s":"NO"},
{"p":"a","c":"pi","t":"pi","x":401.084,"y":169,"s":"π"},
{"p":"a","c":"txt","t":"sup","x":401.15,"y":168,"s":"*"},
{"p":"a","c":"txt","t":"sub","x":401.143,"y":152,"s":"1"},
{"p":"a","c":"txt","t":"lbl","x":401.23,"y":160,"s":"NO"},
{"p":"a","c":"txt","t":"sub","x":401.315,"y":153,"s":"2"},
{"p":"a","c":"txt","t":"sp","x":401.70,"y":50,"s":"NO"},
{"p":"b","c":"txt","t":"panel","x":401.74,"y":282,"s":"b)"},
{"p":"b","c":"pi","t":"piBig","x":400.23,"y":269,"s":"π"},
{"p":"b","c":"txt","t":"sup","x":400.303,"y":270,"s":"*"},
{"p":"b","c":"txt","t":"lbl","x":400.394,"y":260,"s":"(NO)"},
{"p":"b","c":"txt","t":"sub","x":400.503,"y":254,"s":"2"},
{"p":"b","c":"txt","t":"sp","x":401.696,"y":200,"s":"NO"},
{"p":"b","c":"txt","t":"subBig","x":401.84,"y":185,"s":"2"},
{"p":"b","c":"pi","t":"pi","x":401.05,"y":178,"s":"π"},
{"p":"b","c":"txt","t":"sup","x":401.12,"y":177,"s":"*"},
{"p":"b","c":"txt","t":"sub","x":401.115,"y":162,"s":"1"},
{"p":"b","c":"txt","t":"lbl","x":401.20,"y":170,"s":"NO"},
{"p":"b","c":"txt","t":"sub","x":401.283,"y":162,"s":"2"},
{"p":"b","c":"pi","t":"pi","x":400.703,"y":153,"s":"π"},
{"p":"b","c":"txt","t":"sup","x":400.769,"y":152,"s":"*"},
{"p":"b","c":"txt","t":"lbl","x":400.846,"y":146,"s":"NO"},
{"p":"b","c":"txt","t":"sp","x":401.71,"y":49,"s":"NO"},
{"p":"c","c":"txt","t":"sp2","x":400.278,"y":285.5,"s":"NO"},
{"p":"c","c":"txt","t":"sub2","x":400.406,"y":269.5,"s":"2"},
{"p":"c","c":"txt","t":"panel","x":401.744,"y":275.5,"s":"c)"},
{"p":"c","c":"txt","t":"dose","x":400.245,"y":202.5,"s":"260L"},
{"p":"c","c":"pi","t":"pi","x":400.741,"y":200.5,"s":"π"},
{"p":"c","c":"txt","t":"sup","x":400.808,"y":202.5,"s":"*"},
{"p":"c","c":"txt","t":"lbl","x":400.879,"y":192.5,"s":"NO"},
{"p":"c","c":"pi","t":"pi","x":401.055,"y":210.5,"s":"π"},
{"p":"c","c":"txt","t":"sup","x":401.121,"y":212,"s":"*"},
{"p":"c","c":"txt","t":"sub","x":401.115,"y":195.5,"s":"1"},
{"p":"c","c":"txt","t":"lbl","x":401.192,"y":205.5,"s":"NO"},
{"p":"c","c":"txt","t":"sub","x":401.283,"y":195.5,"s":"2"},
{"p":"c","c":"txt","t":"dose","x":400.245,"y":45.5,"s":"70L"},
{"p":"d","c":"txt","t":"sp2","x":400.315,"y":274.5,"s":"NO"},
{"p":"d","c":"txt","t":"sub2","x":400.443,"y":267.5,"s":"2"},
{"p":"d","c":"txt","t":"panel","x":401.742,"y":274.5,"s":"d)"},
{"p":"d","c":"txt","t":"dose","x":400.29,"y":202.5,"s":"260L"},
{"p":"d","c":"pi","t":"pi","x":401.09,"y":206.5,"s":"π"},
{"p":"d","c":"txt","t":"sup","x":401.153,"y":210,"s":"*"},
{"p":"d","c":"txt","t":"sub","x":401.151,"y":194.5,"s":"1"},
{"p":"d","c":"txt","t":"lbl","x":401.238,"y":204.5,"s":"NO"},
{"p":"d","c":"txt","t":"sub","x":401.324,"y":194.5,"s":"2"},
{"p":"d","c":"pi","t":"pi","x":400.633,"y":170.5,"s":"π"},
{"p":"d","c":"txt","t":"sup","x":400.699,"y":172,"s":"*"},
{"p":"d","c":"txt","t":"lbl","x":400.781,"y":163.5,"s":"NO"},
{"p":"d","c":"txt","t":"dose","x":400.256,"y":44.5,"s":"70L"}
]},
"facet":{"field":"p","type":"nominal","header":null},
"columns":2,
"spacing":{"row":70,"column":49},
"bounds":"flush",
"resolve":{"axis":{"x":"independent","y":"independent"}},
"spec":{
"width":373,"height":314,
"encoding":{
"x":{"field":"x","type":"quantitative","scale":{"domain":[400.1,401.9],"nice":false,"zero":false},
"axis":{"title":"Photon Energy (eV)","values":[400.1,400.15,400.2,400.25,400.3,400.35,400.4,400.45,400.5,400.55,400.6,400.65,400.7,400.75,400.8,400.85,400.9,400.95,401.0,401.05,401.1,401.15,401.2,401.25,401.3,401.35,401.4,401.45,401.5,401.55,401.6,401.65,401.7,401.75,401.8,401.85,401.9],
"labelExpr":"abs(datum.value*2-round(datum.value*2))<0.001 ? format(datum.value,'.1f') : ''",
"labelOverlap":false,"labelFlush":false,
"tickSize":{"condition":{"test":"abs(datum.value*2-round(datum.value*2))<0.001","value":7},"value":4},
"labelPadding":2,"titlePadding":-3}},
"y":{"field":"y","type":"quantitative","scale":{"domain":[0,314],"nice":false,"zero":false},
"axis":{"title":"Intensity","labels":false,"ticks":false,"titlePadding":3}}
},
"layer":[
{"transform":[{"filter":"datum.c=='pt'"}],"mark":{"type":"point","shape":"circle","filled":false,"size":20,"color":"#bdbdbd","strokeWidth":1},"encoding":{"detail":{"field":"g"}}},
{"transform":[{"filter":"datum.c=='piNO' && isValid(datum.b)"}],"mark":{"type":"area","interpolate":"monotone","fill":"#dcc4f3","stroke":"#8a2be2","strokeWidth":1.5},"encoding":{"y2":{"field":"b"},"detail":{"field":"g"}}},
{"transform":[{"filter":"datum.c=='piNO2' && isValid(datum.b)"}],"mark":{"type":"area","interpolate":"monotone","fill":"#c9e4c9","stroke":"#1f8a1f","strokeWidth":1.5},"encoding":{"y2":{"field":"b"},"detail":{"field":"g"}}},
{"transform":[{"filter":"(datum.c=='piNO' || datum.c=='piNO2') && !isValid(datum.b)"}],"mark":{"type":"line","interpolate":"monotone","strokeWidth":1.6},"encoding":{"color":{"field":"c","type":"nominal","scale":{"domain":["piNO","piNO2"],"range":["#8a2be2","#1f8a1f"]},"legend":null},"detail":{"field":"g"}}},
{"transform":[{"filter":"datum.c=='vib'"}],"mark":{"type":"line","interpolate":"monotone","strokeWidth":2,"color":"#f39a2b"},"encoding":{"detail":{"field":"g"}}},
{"transform":[{"filter":"datum.c=='sum'"}],"mark":{"type":"line","interpolate":"monotone","strokeWidth":2},"encoding":{"detail":{"field":"g"},"color":{"condition":{"test":"datum.p=='a' || datum.p=='c'","value":"#dc1c1c"},"value":"#1414b0"}}},
{"transform":[{"filter":"datum.c=='txt'"}],"mark":{"type":"text","font":"Liberation Sans","fontWeight":"bold","align":"center","baseline":"middle","color":"#000"},"encoding":{"text":{"field":"s"},"size":{"condition":[{"test":"datum.t=='panel' || datum.t=='sp'","value":34},{"test":"datum.t=='sp2'","value":29},{"test":"datum.t=='dose'","value":24},{"test":"datum.t=='subBig'","value":21},{"test":"datum.t=='lbl'","value":19},{"test":"datum.t=='sub2'","value":17},{"test":"datum.t=='sup'","value":15}],"value":13}}},
{"transform":[{"filter":"datum.c=='pi'"}],"mark":{"type":"text","font":"Liberation Serif","fontWeight":"bold","align":"center","baseline":"middle","color":"#000"},"encoding":{"text":{"field":"s"},"size":{"condition":{"test":"datum.t=='piBig'","value":44},"value":40}}}
]
},
"config":{
"view":{"stroke":"#000","strokeWidth":2},
"header":{"labels":false,"title":null,"labelExpr":"''","labelFontSize":1,"labelPadding":0},
"axis":{"grid":false,"domain":false,"labelFont":"Liberation Sans","labelFontWeight":"bold","labelFontSize":21,"labelColor":"#000","titleFont":"Liberation Sans","titleFontWeight":"bold","titleFontSize":24,"titleColor":"#000","tickColor":"#000","tickWidth":1.5}
}
}
